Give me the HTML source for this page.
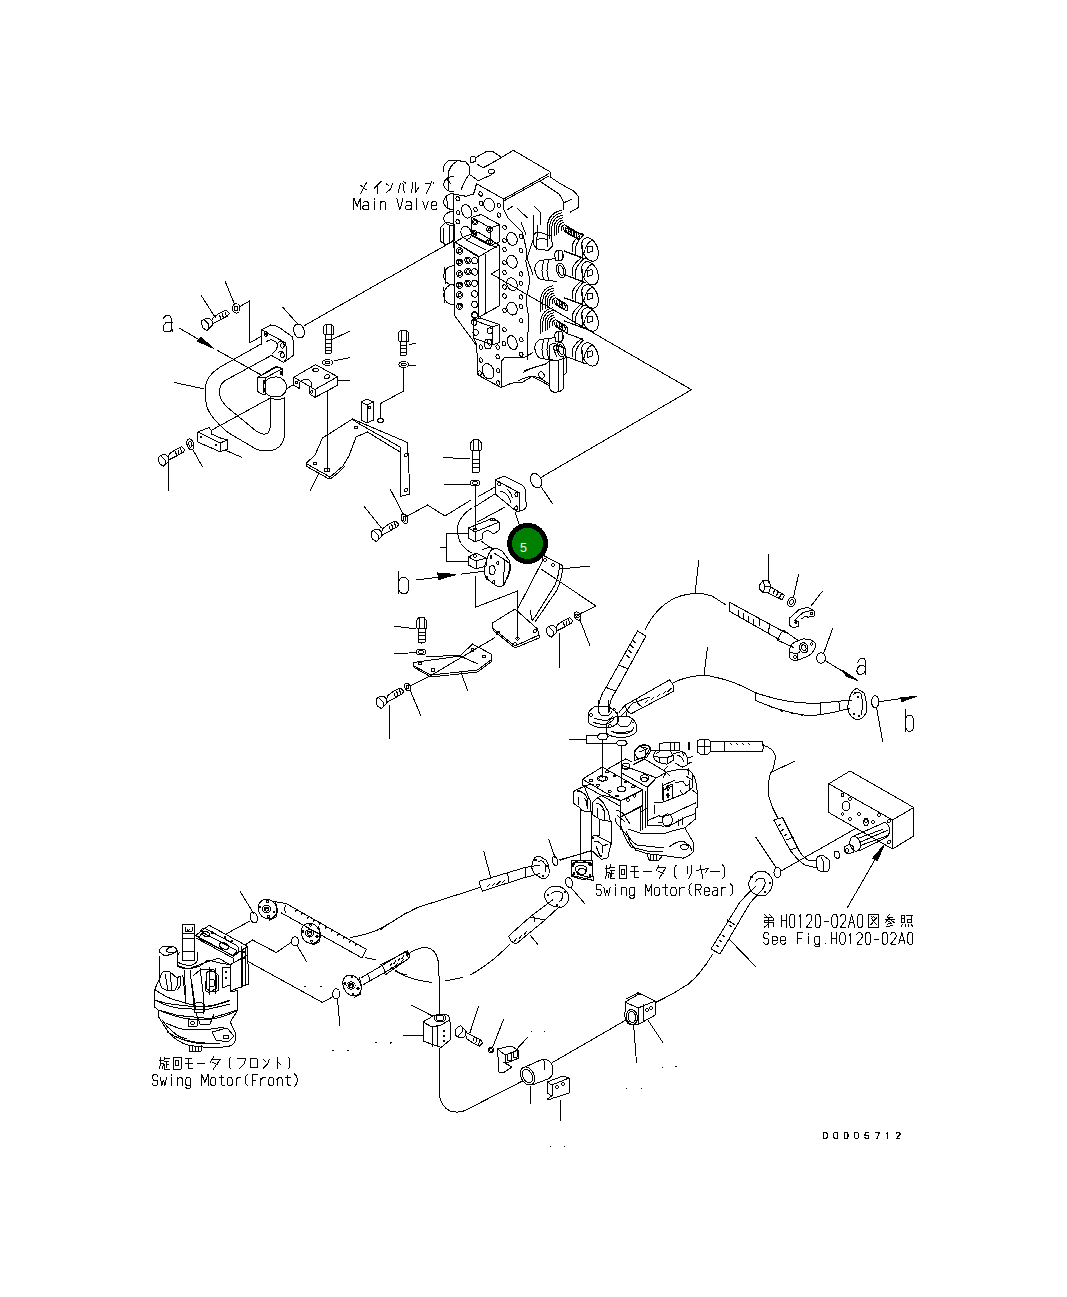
<!DOCTYPE html>
<html><head><meta charset="utf-8">
<style>
html,body{margin:0;padding:0;background:#fff;width:1067px;height:1297px;overflow:hidden}
svg{position:absolute;left:0;top:0}
</style></head><body>
<svg width="1067" height="1297" viewBox="0 0 1067 1297" fill="none" stroke="#000" stroke-width="1" stroke-linejoin="round" stroke-linecap="round" shape-rendering="crispEdges">
<g id="t1">
<!-- letter a -->
<path d="M163.1 318.4 L166.1 315.4 L169.5 315.4 L171.7 318.7 L172.1 331.5 M172.1 322.5 L165.7 322.9 L163.1 325.9 L163.1 330.4 L165.4 331.9 L169.5 331.9 L172.1 329.2"/>
<path d="M179.2 328.1 L198 339 M217.1 350.2 L261 374.9"/>
<path d="M213.7 348.4 L197.2 341.2 L201 337.5 Z" fill="#000"/>
<!-- bolt TL -->
<path d="M201.5 296 L215.6 318"/>



<!-- washer -->
<path d="M225 281 L234.3 303.7"/>
<ellipse cx="236.2" cy="308.4" rx="3.7" ry="4.7"/>
<ellipse cx="236.2" cy="308.4" rx="1.8" ry="2.4"/>
<path d="M240 306.5 L249.5 301 L249.5 343 L261.6 336"/>
<!-- flange top -->
<path d="M261.6 329.8 L270.7 324.9 Q276 325 280 328 L292.2 336.7 L293.5 341.6 L293.5 355.4 L283.8 362.4 L271.4 355.4"/>
<path d="M261.6 329.8 L285.9 343 L286.6 358.2 L283.8 362.4 M261.6 329.8 L261.6 344.4"/>
<path d="M266.5 341.6 Q270 339 272.7 340.2 Q277 342 277.6 345 Q277 350 272.7 353.4"/>
<ellipse cx="265.8" cy="334" rx="1.8" ry="2.2"/><ellipse cx="265.8" cy="334" rx="0.8" ry="1"/>
<ellipse cx="282.4" cy="345.5" rx="1.8" ry="2.6"/><ellipse cx="282.4" cy="355.4" rx="1.8" ry="2.6"/>
<path d="M278 343 Q281 340 284 343 M278 353 Q281 350 284 353"/>
<!-- O-ring & leader -->
<path d="M283 307.5 L298 324.4"/>
<path d="M303.89 329.22 L304.35 331.01 L304.45 332.80 L304.17 334.46 L303.55 335.89 L302.61 336.98 L301.43 337.67 L300.08 337.90 L298.66 337.67 L297.26 336.98 L295.98 335.88 L294.91 334.44 L294.11 332.78 L293.65 330.99 L293.55 329.20 L293.83 327.54 L294.45 326.11 L295.39 325.02 L296.57 324.33 L297.92 324.10 L299.34 324.33 L300.74 325.02 L302.02 326.12 L303.09 327.56 Z"/>
<path d="M303.7 326 L455 240"/>
<!-- pipe -->
<path d="M261.6 343.7 L219.4 367.5 Q206 376 205.3 388 L206.2 405 Q210 418 228.7 433 L256 449 Q266 453 276 449 Q285 444 284.5 432 L284.5 397"/>
<path d="M271.4 355.4 L225 380.6 Q219 385 219.4 393 Q220 400 226.8 406.8 L256 431 Q264 436 268 433 Q270.7 430 270.7 420 L270.7 397"/>
<path d="M174.4 382.5 L204.4 389"/>
<!-- elbow flange middle -->
<path d="M257.5 377.6 L275.5 366.5 L282.4 368.6 L282.4 376 M257.5 377.6 L265.8 377.6 L282.4 368.6 M257.5 377.6 L257.5 391.5 L262.3 394.3 L265.8 394.3 L265.8 377.6"/>
<path d="M263 379.5 L263 393 M260 376 L278 366.5"/>
<path d="M265.2 382 Q269 376.5 276.9 377 Q286.5 378 286.6 388.7 Q285 396 277 397 Q269 397 266 393"/>
<ellipse cx="281" cy="373" rx="1" ry="1.6"/><ellipse cx="265" cy="382" rx="1" ry="1.5"/><ellipse cx="265" cy="390" rx="1" ry="1.5"/>
<path d="M270.7 397.8 Q277 401 284.5 397.8"/>
<path d="M286.6 388.7 L293.5 384.6"/>
<!-- clamp right -->
<path d="M293.7 377.3 L315.6 364.6 L337.5 376.7 L315 389.5 Z"/>
<path d="M293.7 377.3 L293.7 385.3 L299.1 388.3 L299.5 382.5 Q304 378 309 380 Q312 382 311.9 386 L309 387.1 L309.5 393.8 L315 397.4 L337.5 385.3 L337.5 376.7 M315 389.5 L315 397.4"/>
<ellipse cx="315.6" cy="370" rx="2.8" ry="2"/><path d="M329.64 375.52 L329.72 376.58 L329.10 377.68 L327.95 378.51 L326.56 378.86 L325.32 378.63 L324.56 377.88 L324.48 376.82 L325.10 375.72 L326.25 374.89 L327.64 374.54 L328.88 374.77 Z"/>
<circle cx="296.7" cy="382.8" r="1.2"/><circle cx="311.9" cy="392" r="1.2"/>
<path d="M337.5 381 L350 380.5"/>
<path d="M327 391 L327 470.6"/>
<ellipse cx="327" cy="470" rx="2.6" ry="1.9"/>
<!-- lower clamp -->
<path d="M197.8 432 L209 427.5 L211.5 431 L211.5 434 L220.5 438 L227.8 440 L227.8 449 L220 451.8 L197.8 442 Z"/>
<path d="M197.8 432 L220 443 L220 451.8 M220 443 L227.8 440"/>
<circle cx="201" cy="437" r="1"/><circle cx="216" cy="445" r="1"/>
<path d="M225 450 L241.8 457.4"/>
<path d="M211.9 430 L270.7 397.8"/>
<!-- bottom bolt -->



<path d="M168.7 461 L168.7 491"/>
<path d="M193.49 443.45 L193.80 445.46 L193.63 447.31 L193.02 448.76 L192.04 449.61 L190.82 449.74 L189.54 449.13 L188.35 447.87 L187.43 446.13 L186.90 444.15 L186.83 442.18 L187.22 440.50 L188.03 439.33 L189.15 438.84 L190.42 439.08 L191.68 440.02 L192.75 441.55 Z"/>
<path d="M191.85 443.89 L192.03 445.39 L191.75 446.60 L191.08 447.20 L190.20 447.02 L189.35 446.11 L188.75 444.71 L188.57 443.21 L188.85 442.00 L189.52 441.40 L190.40 441.58 L191.25 442.49 Z"/>
<path d="M193 450 L202.5 466.8"/>
</g>

<g id="t10">
<!-- hose A -->
<path d="M532 865 Q533 856 539 856 L546 860 Q550 866 549 874 Q547 880 541 878 L535 874 Q531 870 532 865 Z"/>
<path d="M538 862 Q542 859 545 864 L546 872"/>
<circle cx="535.5" cy="860" r="0.9"/><circle cx="543" cy="876" r="1"/><circle cx="547.5" cy="866" r="1"/>
<path d="M525 867.5 L540 865 M525 877.5 L540 873.5 M525 867.5 L525 877.5"/>
<path d="M480 881 L525 867.5 M482.5 891 L525 877.5 M480 881 Q479 886 482.5 891 M507.5 872.5 L509 883"/>
<path d="M487 887 l3 -3 M492 886 l3 -3 M497 884.5 l3 -3 M502 883 l3 -3"/>
<path d="M483.75 851 L491 879"/>
<path d="M480 887.5 L417.5 907.5 Q398 917 380 930"/>
<path d="M557.41 860.35 L557.73 862.37 L557.58 864.16 L556.98 865.39 L556.03 865.87 L554.91 865.51 L553.81 864.36 L552.91 862.64 L552.37 860.63 L552.29 858.68 L552.67 857.14 L553.46 856.26 L554.52 856.21 L555.65 856.98 L556.68 858.44 Z"/>
<path d="M548.75 839 L555 857.5"/>
<path d="M559 860 L591 851"/>
<path d="M571 864 L580 860 L592.5 864 L592.5 876 L584 880 L571 876 Z M575 868 Q580 863 586 867 Q588 873 582 875 Q576 874 575 868 Z"/>
<circle cx="573" cy="866" r="0.9"/><circle cx="590" cy="865" r="0.9"/><circle cx="574" cy="874" r="0.9"/><circle cx="590" cy="875" r="0.9"/>
<path d="M580 830 L580 861 M591.25 830 L591.25 852.5"/>
<!-- hose B -->
<path d="M572.29 881.30 L572.68 883.08 L572.58 884.78 L572.00 886.17 L571.01 887.07 L569.74 887.35 L568.38 886.97 L567.10 885.99 L566.08 884.54 L565.45 882.81 L565.30 881.04 L565.65 879.47 L566.46 878.31 L567.60 877.71 L568.94 877.76 L570.28 878.45 L571.45 879.69 Z"/>
<path d="M571 887.5 L585 904"/>
<path d="M545 893 Q548 886 556 886 Q566 887 569 896 Q569 904 562 907 Q552 908 547 902 Q544 898 545 893 Z"/>
<path d="M551 894 Q556 889 562 893 Q564 899 559 902"/>
<circle cx="548" cy="895" r="0.9"/><circle cx="565" cy="892" r="0.9"/><circle cx="557" cy="905" r="0.9"/>
<path d="M552.5 900 L530 917 L508.75 936 M560 906 L545 920 L516 944 M508.75 936 Q510 942 516 944"/>
<path d="M530 917 L545 920 M532 915 Q535 918 534 922"/>
<path d="M514 942 l3 -4 M519 939 l3 -4 M524 935 l3 -4"/>
<path d="M530 935 L537.5 944"/>
<path d="M510 944 Q500 954 492.5 960 Q480 970 470 975"/>
<!-- hose C -->
<path d="M380 965 L407.5 951 L410 957.5 L385 975 M407.5 951 Q410 954 410 957.5"/>
<path d="M389 970 l3 -3 M395 966 l3 -3 M401 962 l3 -3"/>
<path d="M410 952.5 Q418 948 425 947.5 Q437 948 438.75 965 L440 1015"/>
<path d="M395 971 Q410 980 432 982.5 M445 981 L462.5 977.5"/>
<!-- clamp 1 -->
<path d="M423 1022 L433 1016 L446 1014 Q450 1016 450 1022 L450 1040 L441 1047.5 L423 1041 Z"/>
<path d="M423 1022 L432 1027 L432 1047 M432 1027 L441 1025 L450 1020 M437 1026 L437 1046"/>
<ellipse cx="440" cy="1018" rx="6" ry="4"/><ellipse cx="440" cy="1018" rx="4" ry="2.6"/>
<circle cx="444" cy="1031" r="1"/><circle cx="444" cy="1036" r="1"/><circle cx="444" cy="1041" r="1"/>
<path d="M411 1005 L432.5 1016 M402.5 1035 L423.75 1035"/>
<path d="M439 1047.5 L439 1092 Q440 1106 450 1111 Q460 1114 468 1109 L522.5 1081"/>
<!-- bolt -->


<path d="M478.75 1006 L470 1032.5"/>
<path d="M493.60 1048.50 L493.88 1049.78 L493.38 1051.12 L492.25 1052.17 L490.78 1052.62 L489.38 1052.38 L488.40 1051.50 L488.12 1050.22 L488.62 1048.88 L489.75 1047.83 L491.22 1047.38 L492.62 1047.62 Z"/><ellipse cx="491" cy="1050" rx="1.4" ry="1.2"/>
<path d="M503.75 1019 L492.5 1047.5"/>
<!-- half clamp -->
<path d="M497.5 1049 L511 1046 L518 1050 L519 1058 L509 1062 L503 1062 L512 1067 L503 1073 L499 1072 Z"/>
<path d="M497.5 1049 L505 1055 L519 1050 M505 1055 L505 1063"/>
<path d="M507 1054 L507 1060 L511 1060 L511 1053 M513 1052 L513 1058 L517 1057 L517 1051"/>
<path d="M527.5 1037.5 L515 1051"/>
<path d="M531 1031 L532 1031 M544 1031 L545 1031"/>
<!-- sleeve -->
<path d="M533.39 1073.25 L534.06 1074.99 L534.48 1076.76 L534.63 1078.50 L534.50 1080.15 L534.11 1081.63 L533.46 1082.90 L532.59 1083.91 L531.51 1084.61 L530.29 1084.98 L528.95 1085.01 L527.57 1084.69 L526.17 1084.03 L524.83 1083.07 L523.59 1081.83 L522.51 1080.37 L521.61 1078.75 L520.94 1077.01 L520.52 1075.24 L520.37 1073.50 L520.50 1071.85 L520.89 1070.37 L521.54 1069.10 L522.41 1068.09 L523.49 1067.39 L524.71 1067.02 L526.05 1066.99 L527.43 1067.31 L528.83 1067.97 L530.17 1068.93 L531.41 1070.17 L532.49 1071.63 Z"/>
<path d="M531.58 1074.10 L532.23 1075.88 L532.52 1077.67 L532.45 1079.34 L532.00 1080.76 L531.23 1081.82 L530.17 1082.46 L528.92 1082.61 L527.56 1082.28 L526.20 1081.48 L524.94 1080.27 L523.86 1078.75 L523.06 1077.02 L522.58 1075.22 L522.47 1073.47 L522.73 1071.91 L523.35 1070.66 L524.27 1069.80 L525.43 1069.40 L526.75 1069.49 L528.12 1070.07 L529.45 1071.08 L530.63 1072.46 Z"/>
<path d="M524 1067.5 L543 1059 Q550 1059 552.5 1066 L552.5 1074 Q551 1078 548 1079 L532 1085"/>
<path d="M543 1059 Q546 1064 544.5 1070"/>
<path d="M552.5 1062.5 L626 1020"/>

<path d="M530 1086 L530 1104 M560 1100 L560 1121"/>
<!-- half clamp 2 -->
<path d="M547 1082 L563 1076 L569 1078 L569 1093 L557 1097 L553 1098 L549 1100 L547 1099 L552 1096 L547 1093 Z M547 1082 L552 1085 L569 1078 M552 1085 L552 1096"/>
<circle cx="557" cy="1087" r="1.3"/><circle cx="563" cy="1084" r="1.3"/>
<!-- clamp 2 right -->
<path d="M625 1002 L639 994 L643 995 L655.3 1001 L655.3 1015 L638 1024.6 L630 1025 Q624 1021 625 1012 Z"/>
<path d="M626 999 L638 992.8 L643 995 M625 1002 L638 1008 L655.3 1001 M638 1008 L638 1024.6 M643 1004 L643 1022"/>
<path d="M637.32 1016.04 L637.47 1017.84 L637.30 1019.59 L636.82 1021.18 L636.05 1022.54 L635.04 1023.57 L633.85 1024.22 L632.54 1024.45 L631.20 1024.24 L629.89 1023.62 L628.71 1022.61 L627.71 1021.28 L626.95 1019.69 L626.48 1017.96 L626.33 1016.16 L626.50 1014.41 L626.98 1012.82 L627.75 1011.46 L628.76 1010.43 L629.95 1009.78 L631.26 1009.55 L632.60 1009.76 L633.91 1010.38 L635.09 1011.39 L636.09 1012.72 L636.85 1014.31 Z"/><path d="M635.64 1016.34 L635.74 1018.23 L635.38 1019.98 L634.60 1021.36 L633.49 1022.22 L632.19 1022.45 L630.86 1022.02 L629.65 1020.99 L628.71 1019.47 L628.16 1017.66 L628.06 1015.77 L628.42 1014.02 L629.20 1012.64 L630.31 1011.78 L631.61 1011.55 L632.94 1011.98 L634.15 1013.01 L635.09 1014.53 Z"/>
<ellipse cx="647" cy="1010" rx="1.5" ry="1.2"/><ellipse cx="651" cy="1008" rx="1.5" ry="1.2"/>
<path d="M647.8 1020 L662.8 1042.5"/>
<path d="M633.7 1025.6 L636.5 1063"/>
<path d="M390 1043 L391 1043 M626 1088 L627 1088 M641 1088 L642 1088 M550 1146 L551 1146 M564 1146 L565 1146 M662 1067 L663 1067 M675.5 1066.8 L676.5 1066.8"/>
</g>

<g id="t11">
<path d="M201.80 320.90 L205.60 318.40 L209.40 318.40 L212.00 320.90 L212.40 325.20 L209.00 328.50 L206.90 330.60 L202.70 327.70 L201.80 324.30 Z M204.40 319.70 L208.60 324.30 L209.00 328.50 M212.50 320.00 L213.20 317.60 L219.10 313.30 L225.90 310.00 L229.30 313.30 M212.40 325.20 L213.20 323.50 L220.00 320.10 L227.60 315.90 L229.30 313.30 M219.60 315.00 L221.00 320.00 M222.20 313.30 L223.50 318.50 M225.00 312.00 L226.50 316.50"/>
<path d="M158.56 457.08 L162.17 454.70 L165.78 454.70 L168.25 457.08 L168.63 461.17 L165.40 464.30 L163.41 466.30 L159.41 463.54 L158.56 460.31 Z M161.03 455.94 L165.02 460.31 L165.40 464.30 M168.72 456.23 L169.39 453.94 L175.00 449.86 L181.45 446.73 L184.69 449.86 M168.63 461.17 L169.39 459.55 L175.85 456.32 L183.07 452.33 L184.69 449.86 M175.47 451.48 L176.80 456.23 M177.94 449.86 L179.18 454.80 M180.60 448.62 L182.03 452.90"/>
<path d="M371.30 531.90 L375.10 529.40 L378.90 529.40 L381.50 531.90 L381.90 536.20 L378.50 539.50 L376.40 541.60 L372.20 538.70 L371.30 535.30 Z M373.90 530.70 L378.10 535.30 L378.50 539.50 M382.00 531.00 L382.70 528.60 L388.60 524.30 L395.40 521.00 L398.80 524.30 M381.90 536.20 L382.70 534.50 L389.50 531.10 L397.10 526.90 L398.80 524.30 M389.10 526.00 L390.50 531.00 M391.70 524.30 L393.00 529.50 M394.50 523.00 L396.00 527.50"/>
<path d="M546.56 628.08 L550.17 625.71 L553.78 625.71 L556.25 628.08 L556.63 632.16 L553.40 635.30 L551.40 637.29 L547.41 634.54 L546.56 631.31 Z M549.03 626.94 L553.02 631.31 L553.40 635.30 M556.73 627.23 L557.39 624.95 L563.00 620.86 L569.46 617.73 L572.68 620.86 M556.63 632.16 L557.39 630.55 L563.85 627.32 L571.07 623.33 L572.68 620.86 M563.47 622.48 L564.80 627.23 M565.94 620.86 L567.17 625.80 M568.60 619.62 L570.02 623.90"/>
<path d="M376.30 698.90 L380.10 696.40 L383.90 696.40 L386.50 698.90 L386.90 703.20 L383.50 706.50 L381.40 708.60 L377.20 705.70 L376.30 702.30 Z M378.90 697.70 L383.10 702.30 L383.50 706.50 M387.00 698.00 L387.70 695.60 L393.60 691.30 L400.40 688.00 L403.80 691.30 M386.90 703.20 L387.70 701.50 L394.50 698.10 L402.10 693.90 L403.80 691.30 M394.10 693.00 L395.50 698.00 M396.70 691.30 L398.00 696.50 M399.50 690.00 L401.00 694.50"/>
<path d="M455.30 1035.30 L459.10 1037.80 L462.90 1037.80 L465.50 1035.30 L465.90 1031.00 L462.50 1027.70 L460.40 1025.60 L456.20 1028.50 L455.30 1031.90 Z M457.90 1036.50 L462.10 1031.90 L462.50 1027.70 M466.00 1036.20 L466.70 1038.60 L472.60 1042.90 L479.40 1046.20 L482.80 1042.90 M465.90 1031.00 L466.70 1032.70 L473.50 1036.10 L481.10 1040.30 L482.80 1042.90 M473.10 1041.20 L474.50 1036.20 M475.70 1042.90 L477.00 1037.70 M478.50 1044.20 L480.00 1039.70"/>
</g>
<g id="t2">
<path d="M513.4 150.3 L549.9 171.7 L550.8 177.4 L559.2 183 L574.2 191.4 L578 196.1 L578.5 207.4 L570.5 212"/>
<path d="M513.4 150.3 L501.7 157.4 L492.4 151.3 L486.7 151.3 L475.5 157.8"/>
<path d="M501.7 157.4 L488.6 164.9 L483 167.7 L477.4 164.4"/>
<path d="M470 158 Q472 155 475 157 L476 161 L471 163 Z"/>
<path d="M443 172 Q443 163 450 160 L455 160 L466 162 L469 166 L469 175 L466.5 178 L463.5 184 L461 190"/>
<path d="M457 161 Q449 166 448 175 Q448 182 451 184"/>
<path d="M470.8 175.2 L478.3 180.8 L490.5 175.2 L494.2 172.4"/>
<path d="M494.70 171.40 L494.26 172.55 L493.05 173.39 L491.40 173.70 L489.75 173.39 L488.54 172.55 L488.10 171.40 L488.54 170.25 L489.75 169.41 L491.40 169.10 L493.05 169.41 L494.26 170.25 Z"/>
<path d="M476.4 183.6 L503.6 199.1 L538 179.9 M503.6 201 L538 182 M538 179.9 L549 173.6 M538 182 L549 176"/>
<path d="M453.5 194 L466.1 196.3 L473.6 194 L476.4 183.6 L475.5 190"/>
<path d="M539.6 181.1 L559.2 194.2 L563.5 201.7 L563.5 209.2 M564 202.7 L571.4 199.4"/>
<path d="M503.6 199.1 L503.6 208.9 L508.3 218.3 L522.3 232.3 L526.1 248 L526 262 L530 280 L526 300 L529 320 L527 345 L528 360"/>
<path d="M507 210 L513 206 M517 208 L527 218 M534 206 L540 212 L540 225 M518 209.2 L527.4 217.7"/>
<path d="M533 215 L533 240 L527 258 L533 275 M538 225 L536 250 M521 222 L526 235"/>
<path d="M453.5 194 L454 248 L454.9 316 L476.9 346 L477.4 374.7 L501 387.6"/>
<path d="M474.1 338.1 L476.9 346"/>
<path d="M454 176 Q445 177 443.5 184.0 Q444 191 454 192"/>
<path d="M454 193 Q445 194 443.5 201.5 Q444 209 454 210"/>
<path d="M454 211 Q445 212 443.5 218.5 Q444 225 454 226"/>
<path d="M454 265.5 Q445 266.5 443.5 275.35 Q444 284.2 454 285.2"/>
<path d="M454 284 Q445 285 443.5 294.5 Q444 304 454 305"/>
<path d="M447 177 Q449 182 448 190 M446 196 Q448 203 447 208 M444 267 Q447 275 445 284 M443 287 Q446 295 444 303"/>
<path d="M440 228 L446 222 L454 224 L454 240 L446 245 L440 241 Z M443 228 L443 244 M449 225 L449 243"/>
<path d="M493.99 202.92 L494.41 204.66 L494.45 206.40 L494.08 208.02 L493.35 209.39 L492.30 210.41 L491.02 211.01 L489.59 211.14 L488.13 210.79 L486.73 209.99 L485.52 208.80 L484.57 207.31 L483.95 205.62 L483.72 203.86 L483.88 202.17 L484.44 200.66 L485.34 199.45 L486.51 198.63 L487.88 198.27 L489.34 198.38 L490.79 198.95 L492.10 199.96 L493.20 201.31 Z"/>
<path d="M470.92 209.73 L471.41 211.56 L471.54 213.37 L471.30 215.03 L470.71 216.42 L469.82 217.42 L468.69 217.97 L467.41 218.02 L466.06 217.58 L464.76 216.67 L463.59 215.36 L462.64 213.75 L461.99 211.96 L461.68 210.12 L461.74 208.37 L462.15 206.83 L462.90 205.63 L463.92 204.84 L465.14 204.54 L466.46 204.74 L467.80 205.42 L469.05 206.54 L470.12 208.01 Z"/>
<path d="M470.80 231.09 L471.23 232.83 L471.29 234.56 L470.96 236.17 L470.27 237.52 L469.27 238.52 L468.03 239.10 L466.65 239.22 L465.23 238.85 L463.88 238.04 L462.69 236.84 L461.75 235.34 L461.14 233.65 L460.89 231.90 L461.03 230.21 L461.55 228.72 L462.40 227.53 L463.53 226.73 L464.85 226.38 L466.26 226.51 L467.66 227.10 L468.94 228.12 L470.02 229.48 Z"/>
<path d="M516.70 237.19 L517.13 238.93 L517.19 240.66 L516.86 242.27 L516.17 243.62 L515.17 244.62 L513.93 245.20 L512.55 245.32 L511.13 244.95 L509.78 244.14 L508.59 242.94 L507.65 241.44 L507.04 239.75 L506.79 238.00 L506.93 236.31 L507.45 234.82 L508.30 233.63 L509.43 232.83 L510.75 232.48 L512.16 232.61 L513.56 233.20 L514.84 234.22 L515.92 235.58 Z"/>
<path d="M516.70 259.99 L517.13 261.73 L517.19 263.46 L516.86 265.07 L516.17 266.42 L515.17 267.42 L513.93 268.00 L512.55 268.12 L511.13 267.75 L509.78 266.94 L508.59 265.74 L507.65 264.24 L507.04 262.55 L506.79 260.80 L506.93 259.11 L507.45 257.62 L508.30 256.43 L509.43 255.63 L510.75 255.28 L512.16 255.41 L513.56 256.00 L514.84 257.02 L515.92 258.38 Z"/>
<path d="M516.70 282.49 L517.13 284.23 L517.19 285.96 L516.86 287.57 L516.17 288.92 L515.17 289.92 L513.93 290.50 L512.55 290.62 L511.13 290.25 L509.78 289.44 L508.59 288.24 L507.65 286.74 L507.04 285.05 L506.79 283.30 L506.93 281.61 L507.45 280.12 L508.30 278.93 L509.43 278.13 L510.75 277.78 L512.16 277.91 L513.56 278.50 L514.84 279.52 L515.92 280.88 Z"/>
<path d="M516.70 306.89 L517.13 308.63 L517.19 310.36 L516.86 311.97 L516.17 313.32 L515.17 314.32 L513.93 314.90 L512.55 315.02 L511.13 314.65 L509.78 313.84 L508.59 312.64 L507.65 311.14 L507.04 309.45 L506.79 307.70 L506.93 306.01 L507.45 304.52 L508.30 303.33 L509.43 302.53 L510.75 302.18 L512.16 302.31 L513.56 302.90 L514.84 303.92 L515.92 305.28 Z"/>
<path d="M493.36 369.38 L493.84 371.15 L494.02 372.92 L493.87 374.60 L493.41 376.11 L492.67 377.36 L491.67 378.28 L490.49 378.82 L489.18 378.96 L487.81 378.69 L486.45 378.01 L485.19 376.98 L484.08 375.64 L483.19 374.06 L482.56 372.34 L482.23 370.56 L482.22 368.82 L482.52 367.21 L483.13 365.83 L484.00 364.74 L485.10 364.00 L486.35 363.66 L487.70 363.72 L489.08 364.20 L490.39 365.06 L491.59 366.26 L492.60 367.72 Z"/>
<path d="M516.53 341.06 L517.05 342.97 L517.21 344.85 L517.01 346.56 L516.46 347.98 L515.60 349.00 L514.50 349.55 L513.24 349.58 L511.90 349.09 L510.60 348.12 L509.42 346.74 L508.45 345.06 L507.77 343.19 L507.43 341.28 L507.44 339.46 L507.82 337.88 L508.53 336.65 L509.52 335.86 L510.72 335.57 L512.03 335.80 L513.36 336.54 L514.62 337.72 L515.70 339.27 Z"/>
<path d="M482.20 193.32 L482.38 194.48 L482.08 195.48 L481.39 196.06 L480.48 196.06 L479.61 195.48 L479.00 194.48 L478.82 193.32 L479.12 192.32 L479.81 191.74 L480.72 191.74 L481.59 192.32 Z"/>
<path d="M482.70 202.72 L482.88 203.88 L482.58 204.88 L481.89 205.46 L480.98 205.46 L480.11 204.88 L479.50 203.88 L479.32 202.72 L479.62 201.72 L480.31 201.14 L481.22 201.14 L482.09 201.72 Z"/>
<path d="M477.10 208.82 L477.28 209.98 L476.98 210.98 L476.29 211.56 L475.38 211.56 L474.51 210.98 L473.90 209.98 L473.72 208.82 L474.02 207.82 L474.71 207.24 L475.62 207.24 L476.49 207.82 Z"/>
<path d="M500.50 204.62 L500.68 205.78 L500.38 206.78 L499.69 207.36 L498.78 207.36 L497.91 206.78 L497.30 205.78 L497.12 204.62 L497.42 203.62 L498.11 203.04 L499.02 203.04 L499.89 203.62 Z"/>
<path d="M500.50 214.42 L500.68 215.58 L500.38 216.58 L499.69 217.16 L498.78 217.16 L497.91 216.58 L497.30 215.58 L497.12 214.42 L497.42 213.42 L498.11 212.84 L499.02 212.84 L499.89 213.42 Z"/>
<path d="M459.30 198.02 L459.48 199.18 L459.18 200.18 L458.49 200.76 L457.58 200.76 L456.71 200.18 L456.10 199.18 L455.92 198.02 L456.22 197.02 L456.91 196.44 L457.82 196.44 L458.69 197.02 Z"/>
<path d="M459.80 212.12 L459.98 213.28 L459.68 214.28 L458.99 214.86 L458.08 214.86 L457.21 214.28 L456.60 213.28 L456.42 212.12 L456.72 211.12 L457.41 210.54 L458.32 210.54 L459.19 211.12 Z"/>
<path d="M459.30 221.02 L459.48 222.18 L459.18 223.18 L458.49 223.76 L457.58 223.76 L456.71 223.18 L456.10 222.18 L455.92 221.02 L456.22 220.02 L456.91 219.44 L457.82 219.44 L458.69 220.02 Z"/>
<path d="M506.10 226.62 L506.28 227.78 L505.98 228.78 L505.29 229.36 L504.38 229.36 L503.51 228.78 L502.90 227.78 L502.72 226.62 L503.02 225.62 L503.71 225.04 L504.62 225.04 L505.49 225.62 Z"/>
<path d="M522.60 236.02 L522.78 237.18 L522.48 238.18 L521.79 238.76 L520.88 238.76 L520.01 238.18 L519.40 237.18 L519.22 236.02 L519.52 235.02 L520.21 234.44 L521.12 234.44 L521.99 235.02 Z"/>
<path d="M506.10 240.12 L506.28 241.28 L505.98 242.28 L505.29 242.86 L504.38 242.86 L503.51 242.28 L502.90 241.28 L502.72 240.12 L503.02 239.12 L503.71 238.54 L504.62 238.54 L505.49 239.12 Z"/>
<path d="M506.10 249.02 L506.28 250.18 L505.98 251.18 L505.29 251.76 L504.38 251.76 L503.51 251.18 L502.90 250.18 L502.72 249.02 L503.02 248.02 L503.71 247.44 L504.62 247.44 L505.49 248.02 Z"/>
<path d="M506.10 262.12 L506.28 263.28 L505.98 264.28 L505.29 264.86 L504.38 264.86 L503.51 264.28 L502.90 263.28 L502.72 262.12 L503.02 261.12 L503.71 260.54 L504.62 260.54 L505.49 261.12 Z"/>
<path d="M506.10 271.92 L506.28 273.08 L505.98 274.08 L505.29 274.66 L504.38 274.66 L503.51 274.08 L502.90 273.08 L502.72 271.92 L503.02 270.92 L503.71 270.34 L504.62 270.34 L505.49 270.92 Z"/>
<path d="M506.10 286.42 L506.28 287.58 L505.98 288.58 L505.29 289.16 L504.38 289.16 L503.51 288.58 L502.90 287.58 L502.72 286.42 L503.02 285.42 L503.71 284.84 L504.62 284.84 L505.49 285.42 Z"/>
<path d="M506.10 295.42 L506.28 296.58 L505.98 297.58 L505.29 298.16 L504.38 298.16 L503.51 297.58 L502.90 296.58 L502.72 295.42 L503.02 294.42 L503.71 293.84 L504.62 293.84 L505.49 294.42 Z"/>
<path d="M506.10 309.92 L506.28 311.08 L505.98 312.08 L505.29 312.66 L504.38 312.66 L503.51 312.08 L502.90 311.08 L502.72 309.92 L503.02 308.92 L503.71 308.34 L504.62 308.34 L505.49 308.92 Z"/>
<path d="M522.60 249.92 L522.78 251.08 L522.48 252.08 L521.79 252.66 L520.88 252.66 L520.01 252.08 L519.40 251.08 L519.22 249.92 L519.52 248.92 L520.21 248.34 L521.12 248.34 L521.99 248.92 Z"/>
<path d="M522.60 273.32 L522.78 274.48 L522.48 275.48 L521.79 276.06 L520.88 276.06 L520.01 275.48 L519.40 274.48 L519.22 273.32 L519.52 272.32 L520.21 271.74 L521.12 271.74 L521.99 272.32 Z"/>
<path d="M522.60 282.72 L522.78 283.88 L522.48 284.88 L521.79 285.46 L520.88 285.46 L520.01 284.88 L519.40 283.88 L519.22 282.72 L519.52 281.72 L520.21 281.14 L521.12 281.14 L521.99 281.72 Z"/>
<path d="M522.60 296.32 L522.78 297.48 L522.48 298.48 L521.79 299.06 L520.88 299.06 L520.01 298.48 L519.40 297.48 L519.22 296.32 L519.52 295.32 L520.21 294.74 L521.12 294.74 L521.99 295.32 Z"/>
<path d="M522.60 306.12 L522.78 307.28 L522.48 308.28 L521.79 308.86 L520.88 308.86 L520.01 308.28 L519.40 307.28 L519.22 306.12 L519.52 305.12 L520.21 304.54 L521.12 304.54 L521.99 305.12 Z"/>
<path d="M522.60 320.22 L522.78 321.38 L522.48 322.38 L521.79 322.96 L520.88 322.96 L520.01 322.38 L519.40 321.38 L519.22 320.22 L519.52 319.22 L520.21 318.64 L521.12 318.64 L521.99 319.22 Z"/>
<path d="M522.90 339.22 L523.08 340.38 L522.78 341.38 L522.09 341.96 L521.18 341.96 L520.31 341.38 L519.70 340.38 L519.52 339.22 L519.82 338.22 L520.51 337.64 L521.42 337.64 L522.29 338.22 Z"/>
<path d="M522.90 353.82 L523.08 354.98 L522.78 355.98 L522.09 356.56 L521.18 356.56 L520.31 355.98 L519.70 354.98 L519.52 353.82 L519.82 352.82 L520.51 352.24 L521.42 352.24 L522.29 352.82 Z"/>
<path d="M482.40 346.52 L482.58 347.68 L482.28 348.68 L481.59 349.26 L480.68 349.26 L479.81 348.68 L479.20 347.68 L479.02 346.52 L479.32 345.52 L480.01 344.94 L480.92 344.94 L481.79 345.52 Z"/>
<path d="M482.40 359.42 L482.58 360.58 L482.28 361.58 L481.59 362.16 L480.68 362.16 L479.81 361.58 L479.20 360.58 L479.02 359.42 L479.32 358.42 L480.01 357.84 L480.92 357.84 L481.79 358.42 Z"/>
<path d="M481.30 372.42 L481.48 373.58 L481.18 374.58 L480.49 375.16 L479.58 375.16 L478.71 374.58 L478.10 373.58 L477.92 372.42 L478.22 371.42 L478.91 370.84 L479.82 370.84 L480.69 371.42 Z"/>
<path d="M499.30 346.52 L499.48 347.68 L499.18 348.68 L498.49 349.26 L497.58 349.26 L496.71 348.68 L496.10 347.68 L495.92 346.52 L496.22 345.52 L496.91 344.94 L497.82 344.94 L498.69 345.52 Z"/>
<path d="M499.30 356.12 L499.48 357.28 L499.18 358.28 L498.49 358.86 L497.58 358.86 L496.71 358.28 L496.10 357.28 L495.92 356.12 L496.22 355.12 L496.91 354.54 L497.82 354.54 L498.69 355.12 Z"/>
<path d="M499.80 370.12 L499.98 371.28 L499.68 372.28 L498.99 372.86 L498.08 372.86 L497.21 372.28 L496.60 371.28 L496.42 370.12 L496.72 369.12 L497.41 368.54 L498.32 368.54 L499.19 369.12 Z"/>
<path d="M499.80 382.52 L499.98 383.68 L499.68 384.68 L498.99 385.26 L498.08 385.26 L497.21 384.68 L496.60 383.68 L496.42 382.52 L496.72 381.52 L497.41 380.94 L498.32 380.94 L499.19 381.52 Z"/>
<path d="M506.00 329.12 L506.18 330.28 L505.88 331.28 L505.19 331.86 L504.28 331.86 L503.41 331.28 L502.80 330.28 L502.62 329.12 L502.92 328.12 L503.61 327.54 L504.52 327.54 L505.39 328.12 Z"/>
<path d="M505.50 343.12 L505.68 344.28 L505.38 345.28 L504.69 345.86 L503.78 345.86 L502.91 345.28 L502.30 344.28 L502.12 343.12 L502.42 342.12 L503.11 341.54 L504.02 341.54 L504.89 342.12 Z"/>
<path d="M454.9 242 L466 236 L478 232 L499 244.9 L478.3 257 Z"/>
<path d="M459.6 244.9 L478.3 256.1 M466 240 L486 250 M470 234 L497 248"/>
<path d="M478.3 257 L478.3 317.5 M499 244.9 L499.4 305.8 L478.3 317.5 M485.3 254 L485.3 314 M454.9 242 L454.9 316"/>
<path d="M462.42 249.97 L462.61 251.66 L461.99 253.17 L460.73 254.10 L459.17 254.20 L457.72 253.44 L456.78 252.03 L456.59 250.34 L457.21 248.83 L458.47 247.90 L460.03 247.80 L461.48 248.56 Z"/>
<path d="M461.20 251.00 L460.99 251.90 L460.40 252.56 L459.60 252.80 L458.80 252.56 L458.21 251.90 L458.00 251.00 L458.21 250.10 L458.80 249.44 L459.60 249.20 L460.40 249.44 L460.99 250.10 Z"/>
<path d="M462.42 261.17 L462.61 262.86 L461.99 264.37 L460.73 265.30 L459.17 265.40 L457.72 264.64 L456.78 263.23 L456.59 261.54 L457.21 260.03 L458.47 259.10 L460.03 259.00 L461.48 259.76 Z"/>
<path d="M461.20 262.20 L460.99 263.10 L460.40 263.76 L459.60 264.00 L458.80 263.76 L458.21 263.10 L458.00 262.20 L458.21 261.30 L458.80 260.64 L459.60 260.40 L460.40 260.64 L460.99 261.30 Z"/>
<path d="M462.42 272.87 L462.61 274.56 L461.99 276.07 L460.73 277.00 L459.17 277.10 L457.72 276.34 L456.78 274.93 L456.59 273.24 L457.21 271.73 L458.47 270.80 L460.03 270.70 L461.48 271.46 Z"/>
<path d="M461.20 273.90 L460.99 274.80 L460.40 275.46 L459.60 275.70 L458.80 275.46 L458.21 274.80 L458.00 273.90 L458.21 273.00 L458.80 272.34 L459.60 272.10 L460.40 272.34 L460.99 273.00 Z"/>
<path d="M462.42 284.17 L462.61 285.86 L461.99 287.37 L460.73 288.30 L459.17 288.40 L457.72 287.64 L456.78 286.23 L456.59 284.54 L457.21 283.03 L458.47 282.10 L460.03 282.00 L461.48 282.76 Z"/>
<path d="M461.20 285.20 L460.99 286.10 L460.40 286.76 L459.60 287.00 L458.80 286.76 L458.21 286.10 L458.00 285.20 L458.21 284.30 L458.80 283.64 L459.60 283.40 L460.40 283.64 L460.99 284.30 Z"/>
<path d="M462.42 293.97 L462.61 295.66 L461.99 297.17 L460.73 298.10 L459.17 298.20 L457.72 297.44 L456.78 296.03 L456.59 294.34 L457.21 292.83 L458.47 291.90 L460.03 291.80 L461.48 292.56 Z"/>
<path d="M461.20 295.00 L460.99 295.90 L460.40 296.56 L459.60 296.80 L458.80 296.56 L458.21 295.90 L458.00 295.00 L458.21 294.10 L458.80 293.44 L459.60 293.20 L460.40 293.44 L460.99 294.10 Z"/>
<path d="M462.42 305.27 L462.61 306.96 L461.99 308.47 L460.73 309.40 L459.17 309.50 L457.72 308.74 L456.78 307.33 L456.59 305.64 L457.21 304.13 L458.47 303.20 L460.03 303.10 L461.48 303.86 Z"/>
<path d="M461.20 306.30 L460.99 307.20 L460.40 307.86 L459.60 308.10 L458.80 307.86 L458.21 307.20 L458.00 306.30 L458.21 305.40 L458.80 304.74 L459.60 304.50 L460.40 304.74 L460.99 305.40 Z"/>
<path d="M471.01 259.21 L471.19 260.77 L470.64 262.23 L469.48 263.25 L467.99 263.59 L466.50 263.18 L465.35 262.10 L464.81 260.62 L465.00 259.06 L465.88 257.79 L467.24 257.09 L468.78 257.13 L470.14 257.89 Z"/>
<path d="M469.69 259.68 L469.79 260.66 L469.41 261.54 L468.65 262.09 L467.72 262.15 L466.86 261.73 L466.31 260.92 L466.21 259.94 L466.59 259.06 L467.35 258.51 L468.28 258.45 L469.14 258.87 Z"/>
<path d="M471.01 270.51 L471.19 272.07 L470.64 273.53 L469.48 274.55 L467.99 274.89 L466.50 274.48 L465.35 273.40 L464.81 271.92 L465.00 270.36 L465.88 269.09 L467.24 268.39 L468.78 268.43 L470.14 269.19 Z"/>
<path d="M469.69 270.98 L469.79 271.96 L469.41 272.84 L468.65 273.39 L467.72 273.45 L466.86 273.03 L466.31 272.22 L466.21 271.24 L466.59 270.36 L467.35 269.81 L468.28 269.75 L469.14 270.17 Z"/>
<path d="M471.01 282.21 L471.19 283.77 L470.64 285.23 L469.48 286.25 L467.99 286.59 L466.50 286.18 L465.35 285.10 L464.81 283.62 L465.00 282.06 L465.88 280.79 L467.24 280.09 L468.78 280.13 L470.14 280.89 Z"/>
<path d="M469.69 282.68 L469.79 283.66 L469.41 284.54 L468.65 285.09 L467.72 285.15 L466.86 284.73 L466.31 283.92 L466.21 282.94 L466.59 282.06 L467.35 281.51 L468.28 281.45 L469.14 281.87 Z"/>
<path d="M477.42 259.77 L477.61 261.46 L476.99 262.97 L475.73 263.90 L474.17 264.00 L472.72 263.24 L471.78 261.83 L471.59 260.14 L472.21 258.63 L473.47 257.70 L475.03 257.60 L476.48 258.36 Z"/>
<path d="M477.42 270.97 L477.61 272.66 L476.99 274.17 L475.73 275.10 L474.17 275.20 L472.72 274.44 L471.78 273.03 L471.59 271.34 L472.21 269.83 L473.47 268.90 L475.03 268.80 L476.48 269.56 Z"/>
<path d="M477.42 282.27 L477.61 283.96 L476.99 285.47 L475.73 286.40 L474.17 286.50 L472.72 285.74 L471.78 284.33 L471.59 282.64 L472.21 281.13 L473.47 280.20 L475.03 280.10 L476.48 280.86 Z"/>
<path d="M477.42 292.97 L477.61 294.66 L476.99 296.17 L475.73 297.10 L474.17 297.20 L472.72 296.44 L471.78 295.03 L471.59 293.34 L472.21 291.83 L473.47 290.90 L475.03 290.80 L476.48 291.56 Z"/>
<path d="M477.42 303.37 L477.61 305.06 L476.99 306.57 L475.73 307.50 L474.17 307.60 L472.72 306.84 L471.78 305.43 L471.59 303.74 L472.21 302.23 L473.47 301.30 L475.03 301.20 L476.48 301.96 Z"/>
<path d="M477.42 313.67 L477.61 315.36 L476.99 316.87 L475.73 317.80 L474.17 317.90 L472.72 317.14 L471.78 315.73 L471.59 314.04 L472.21 312.53 L473.47 311.60 L475.03 311.50 L476.48 312.26 Z"/>
<path d="M499.4 269.2 L491.4 273.9 L499.4 278.6 L691.5 389.7 L540 478"/>
<path d="M471.7 217.4 L481.1 214.5 L499.9 224.8 L499.9 241.7 L490.5 245.5 L471.7 236 Z M490.5 228 L499.9 224.8 M490.5 228 L490.5 245.5 M471.7 217.4 L490.5 228"/>
<path d="M477.63 221.04 L477.79 222.58 L477.20 223.96 L476.03 224.82 L474.57 224.92 L473.23 224.24 L472.37 222.96 L472.21 221.42 L472.80 220.04 L473.97 219.18 L475.43 219.08 L476.77 219.76 Z"/>
<path d="M476.40 222.00 L476.21 222.75 L475.70 223.30 L475.00 223.50 L474.30 223.30 L473.79 222.75 L473.60 222.00 L473.79 221.25 L474.30 220.70 L475.00 220.50 L475.70 220.70 L476.21 221.25 Z"/>
<path d="M476.73 232.34 L476.89 233.88 L476.30 235.26 L475.13 236.12 L473.67 236.22 L472.33 235.54 L471.47 234.26 L471.31 232.72 L471.90 231.34 L473.07 230.48 L474.53 230.38 L475.87 231.06 Z"/>
<path d="M475.50 233.30 L475.31 234.05 L474.80 234.60 L474.10 234.80 L473.40 234.60 L472.89 234.05 L472.70 233.30 L472.89 232.55 L473.40 232.00 L474.10 231.80 L474.80 232.00 L475.31 232.55 Z"/>
<path d="M492.13 228.54 L492.29 230.08 L491.70 231.46 L490.53 232.32 L489.07 232.42 L487.73 231.74 L486.87 230.46 L486.71 228.92 L487.30 227.54 L488.47 226.68 L489.93 226.58 L491.27 227.26 Z"/>
<path d="M490.90 229.50 L490.71 230.25 L490.20 230.80 L489.50 231.00 L488.80 230.80 L488.29 230.25 L488.10 229.50 L488.29 228.75 L488.80 228.20 L489.50 228.00 L490.20 228.20 L490.71 228.75 Z"/>
<path d="M492.13 240.74 L492.29 242.28 L491.70 243.66 L490.53 244.52 L489.07 244.62 L487.73 243.94 L486.87 242.66 L486.71 241.12 L487.30 239.74 L488.47 238.88 L489.93 238.78 L491.27 239.46 Z"/>
<path d="M490.90 241.70 L490.71 242.45 L490.20 243.00 L489.50 243.20 L488.80 243.00 L488.29 242.45 L488.10 241.70 L488.29 240.95 L488.80 240.40 L489.50 240.20 L490.20 240.40 L490.71 240.95 Z"/>
<path d="M473.5 320.1 L480.2 317.9 L499.4 324.6 L499.4 342.6 L492.6 344.9 L473.5 338.1 Z M492.6 327 L499.4 324.6 M492.6 327 L492.6 344.9 M473.5 320.1 L492.6 327"/>
<path d="M477.23 314.64 L477.39 316.18 L476.80 317.56 L475.63 318.42 L474.17 318.52 L472.83 317.84 L471.97 316.56 L471.81 315.02 L472.40 313.64 L473.57 312.78 L475.03 312.68 L476.37 313.36 Z"/>
<path d="M476.73 321.44 L476.89 322.98 L476.30 324.36 L475.13 325.22 L473.67 325.32 L472.33 324.64 L471.47 323.36 L471.31 321.82 L471.90 320.44 L473.07 319.58 L474.53 319.48 L475.87 320.16 Z"/>
<path d="M478.33 331.54 L478.49 333.08 L477.90 334.46 L476.73 335.32 L475.27 335.42 L473.93 334.74 L473.07 333.46 L472.91 331.92 L473.50 330.54 L474.67 329.68 L476.13 329.58 L477.47 330.26 Z"/>
<path d="M492.43 329.84 L492.59 331.38 L492.00 332.76 L490.83 333.62 L489.37 333.72 L488.03 333.04 L487.17 331.76 L487.01 330.22 L487.60 328.84 L488.77 327.98 L490.23 327.88 L491.57 328.56 Z"/>
<path d="M492.43 341.14 L492.59 342.68 L492.00 344.06 L490.83 344.92 L489.37 345.02 L488.03 344.34 L487.17 343.06 L487.01 341.52 L487.60 340.14 L488.77 339.28 L490.23 339.18 L491.57 339.86 Z"/>
<path d="M492.00 344.00 L491.76 345.71 L491.06 347.21 L490.00 348.33 L488.69 348.92 L487.31 348.92 L486.00 348.33 L484.94 347.21 L484.24 345.71 L484.00 344.00 L484.24 342.29 L484.94 340.79 L486.00 339.67 L487.31 339.08 L488.69 339.08 L490.00 339.67 L491.06 340.79 L491.76 342.29 Z"/>
<path d="M501 361.7 L501 387.6 M501 361.7 L505 357 L523 358 L533 352.6 M501 387.6 L511.7 383.1 L523 382 L532 376.4 L538.7 377.5 L550 384.2"/>
<path d="M524.1 370.7 L545.5 364 M518 380.6 L531.1 375.9 L548.9 385.3 M523.6 372.2 L533 367.5 L544.2 364.7 L549.9 360.9"/>
<path d="M543.75 373.70 L544.33 375.39 L544.14 376.98 L543.25 378.03 L541.89 378.27 L540.42 377.64 L539.25 376.30 L538.67 374.61 L538.86 373.02 L539.75 371.97 L541.11 371.73 L542.58 372.36 Z"/>
<path d="M549.4 360 L549.9 389 Q552 392.5 555.5 392.3 Q561 392 563.9 388.1 L563.9 356.2 M558.8 360 L558.8 392 M566.7 356.2 L566.7 372 L564 375"/>
<path d="M549 346 Q551 343 556 344 L565 349 L565 358 L559 360 L549 360 Z M553 348 L557 357"/>
<path d="M558.60 348.00 L558.25 349.30 L557.30 350.25 L556.00 350.60 L554.70 350.25 L553.75 349.30 L553.40 348.00 L553.75 346.70 L554.70 345.75 L556.00 345.40 L557.30 345.75 L558.25 346.70 Z"/>
<path d="M597.05 246.65 L597.69 248.50 L598.13 250.38 L598.36 252.24 L598.38 254.02 L598.18 255.69 L597.76 257.19 L597.15 258.50 L596.35 259.57 L595.39 260.39 L594.28 260.92 L593.07 261.15 L591.77 261.09 L590.43 260.72 L589.08 260.06 L587.76 259.13 L586.49 257.95 L585.31 256.55 L584.25 254.97 L583.34 253.25 L582.61 251.43 L582.06 249.56 L581.73 247.69 L581.60 245.86 L581.69 244.13 L582.00 242.54 L582.52 241.13 L583.23 239.93 L584.11 238.99 L585.15 238.31 L586.31 237.93 L587.57 237.84 L588.89 238.06 L590.24 238.57 L591.59 239.37 L592.89 240.43 L594.12 241.72 L595.24 243.22 L596.22 244.88 Z"/>
<path d="M584.5 252.5 Q585 244.5 592 240.0"/>
<path d="M587.4 246.5 L592 246.0 L592 251.5 L587.4 252.5 Z"/>
<path d="M582.2 245.5 L582.2 258.0"/>
<path d="M572.3 251.5 L572.3 245.5 Q573.5 239.5 582.2 233.5 M575.4 255.5 L575.4 247.5 Q577 241.5 583.1 235.5"/>
<path d="M583 234.5 L566.7 228.5 M586 259.0 L564.4 251.0"/>
<path d="M597.05 270.45 L597.69 272.30 L598.13 274.18 L598.36 276.04 L598.38 277.82 L598.18 279.49 L597.76 280.99 L597.15 282.30 L596.35 283.37 L595.39 284.19 L594.28 284.72 L593.07 284.95 L591.77 284.89 L590.43 284.52 L589.08 283.86 L587.76 282.93 L586.49 281.75 L585.31 280.35 L584.25 278.77 L583.34 277.05 L582.61 275.23 L582.06 273.36 L581.73 271.49 L581.60 269.66 L581.69 267.93 L582.00 266.34 L582.52 264.93 L583.23 263.73 L584.11 262.79 L585.15 262.11 L586.31 261.73 L587.57 261.64 L588.89 261.86 L590.24 262.37 L591.59 263.17 L592.89 264.23 L594.12 265.52 L595.24 267.02 L596.22 268.68 Z"/>
<path d="M584.5 276.3 Q585 268.3 592 263.8"/>
<path d="M587.4 270.3 L592 269.8 L592 275.3 L587.4 276.3 Z"/>
<path d="M582.2 269.3 L582.2 281.8"/>
<path d="M572.3 275.3 L572.3 269.3 Q573.5 263.3 582.2 257.3 M575.4 279.3 L575.4 271.3 Q577 265.3 583.1 259.3"/>
<path d="M583 258.3 L566.7 252.3 M586 282.8 L564.4 274.8"/>
<path d="M597.05 293.65 L597.69 295.50 L598.13 297.38 L598.36 299.24 L598.38 301.02 L598.18 302.69 L597.76 304.19 L597.15 305.50 L596.35 306.57 L595.39 307.39 L594.28 307.92 L593.07 308.15 L591.77 308.09 L590.43 307.72 L589.08 307.06 L587.76 306.13 L586.49 304.95 L585.31 303.55 L584.25 301.97 L583.34 300.25 L582.61 298.43 L582.06 296.56 L581.73 294.69 L581.60 292.86 L581.69 291.13 L582.00 289.54 L582.52 288.13 L583.23 286.93 L584.11 285.99 L585.15 285.31 L586.31 284.93 L587.57 284.84 L588.89 285.06 L590.24 285.57 L591.59 286.37 L592.89 287.43 L594.12 288.72 L595.24 290.22 L596.22 291.88 Z"/>
<path d="M584.5 299.5 Q585 291.5 592 287.0"/>
<path d="M587.4 293.5 L592 293.0 L592 298.5 L587.4 299.5 Z"/>
<path d="M582.2 292.5 L582.2 305.0"/>
<path d="M572.3 298.5 L572.3 292.5 Q573.5 286.5 582.2 280.5 M575.4 302.5 L575.4 294.5 Q577 288.5 583.1 282.5"/>
<path d="M583 281.5 L566.7 275.5 M586 306.0 L564.4 298.0"/>
<path d="M597.05 316.65 L597.69 318.50 L598.13 320.38 L598.36 322.24 L598.38 324.02 L598.18 325.69 L597.76 327.19 L597.15 328.50 L596.35 329.57 L595.39 330.39 L594.28 330.92 L593.07 331.15 L591.77 331.09 L590.43 330.72 L589.08 330.06 L587.76 329.13 L586.49 327.95 L585.31 326.55 L584.25 324.97 L583.34 323.25 L582.61 321.43 L582.06 319.56 L581.73 317.69 L581.60 315.86 L581.69 314.13 L582.00 312.54 L582.52 311.13 L583.23 309.93 L584.11 308.99 L585.15 308.31 L586.31 307.93 L587.57 307.84 L588.89 308.06 L590.24 308.57 L591.59 309.37 L592.89 310.43 L594.12 311.72 L595.24 313.22 L596.22 314.88 Z"/>
<path d="M584.5 322.5 Q585 314.5 592 310.0"/>
<path d="M587.4 316.5 L592 316.0 L592 321.5 L587.4 322.5 Z"/>
<path d="M582.2 315.5 L582.2 328.0"/>
<path d="M572.3 321.5 L572.3 315.5 Q573.5 309.5 582.2 303.5 M575.4 325.5 L575.4 317.5 Q577 311.5 583.1 305.5"/>
<path d="M583 304.5 L566.7 298.5 M586 329.0 L564.4 321.0"/>
<path d="M597.05 351.55 L597.69 353.40 L598.13 355.28 L598.36 357.14 L598.38 358.92 L598.18 360.59 L597.76 362.09 L597.15 363.40 L596.35 364.47 L595.39 365.29 L594.28 365.82 L593.07 366.05 L591.77 365.99 L590.43 365.62 L589.08 364.96 L587.76 364.03 L586.49 362.85 L585.31 361.45 L584.25 359.87 L583.34 358.15 L582.61 356.33 L582.06 354.46 L581.73 352.59 L581.60 350.76 L581.69 349.03 L582.00 347.44 L582.52 346.03 L583.23 344.83 L584.11 343.89 L585.15 343.21 L586.31 342.83 L587.57 342.74 L588.89 342.96 L590.24 343.47 L591.59 344.27 L592.89 345.33 L594.12 346.62 L595.24 348.12 L596.22 349.78 Z"/>
<path d="M584.5 357.4 Q585 349.4 592 344.9"/>
<path d="M587.4 351.4 L592 350.9 L592 356.4 L587.4 357.4 Z"/>
<path d="M582.2 350.4 L582.2 362.9"/>
<path d="M572.3 356.4 L572.3 350.4 Q573.5 344.4 582.2 338.4 M575.4 360.4 L575.4 352.4 Q577 346.4 583.1 340.4"/>
<path d="M583 339.4 L566.7 333.4 M586 363.9 L564.4 355.9"/>
<path d="M561.0 231.4 L561.0 228.2 Q561.4 225.4 564.2 224.8"/>
<path d="M558.7 232.8 L558.7 227.7 Q559.3 223.3 563.7 222.4"/>
<path d="M556.4 234.2 L556.4 227.3 Q557.3 221.3 563.3 220.0"/>
<path d="M554.1 235.5 L554.1 226.8 Q555.2 219.2 562.8 217.6"/>
<path d="M551.8 236.9 L551.8 226.4 Q553.1 217.1 562.4 215.1"/>
<path d="M549.5 238.3 L549.5 225.9 Q551.0 215.1 561.9 212.7"/>
<path d="M547.2 239.7 L547.2 225.4 Q549.0 213.0 561.4 210.3"/>
<path d="M568.08 227.80 L568.87 229.65 L569.09 231.37 L568.70 232.62 L567.78 233.15 L566.50 232.86 L565.13 231.81 L563.92 230.20 L563.13 228.35 L562.91 226.63 L563.30 225.38 L564.22 224.85 L565.50 225.14 L566.87 226.19 Z"/>
<path d="M570.68 229.30 L571.47 231.15 L571.69 232.87 L571.30 234.12 L570.38 234.65 L569.10 234.36 L567.73 233.31 L566.52 231.70 L565.73 229.85 L565.51 228.13 L565.90 226.88 L566.82 226.35 L568.10 226.64 L569.47 227.69 Z"/>
<path d="M573.28 230.80 L574.07 232.65 L574.29 234.37 L573.90 235.62 L572.98 236.15 L571.70 235.86 L570.33 234.81 L569.12 233.20 L568.33 231.35 L568.11 229.63 L568.50 228.38 L569.42 227.85 L570.70 228.14 L572.07 229.19 Z"/>
<path d="M575.88 232.30 L576.67 234.15 L576.89 235.87 L576.50 237.12 L575.58 237.65 L574.30 237.36 L572.93 236.31 L571.72 234.70 L570.93 232.85 L570.71 231.13 L571.10 229.88 L572.02 229.35 L573.30 229.64 L574.67 230.69 Z"/>
<path d="M578.48 233.80 L579.27 235.65 L579.49 237.37 L579.10 238.62 L578.18 239.15 L576.90 238.86 L575.53 237.81 L574.32 236.20 L573.53 234.35 L573.31 232.63 L573.70 231.38 L574.62 230.85 L575.90 231.14 L577.27 232.19 Z"/>
<path d="M552.0 304.4 L552.0 301.2 Q552.4 298.4 555.2 297.8"/>
<path d="M549.7 305.8 L549.7 300.7 Q550.3 296.3 554.7 295.4"/>
<path d="M547.4 307.2 L547.4 300.3 Q548.3 294.3 554.3 293.0"/>
<path d="M545.1 308.5 L545.1 299.8 Q546.2 292.2 553.8 290.6"/>
<path d="M542.8 309.9 L542.8 299.4 Q544.1 290.1 553.4 288.1"/>
<path d="M540.5 311.3 L540.5 298.9 Q542.0 288.1 552.9 285.7"/>
<path d="M559.08 300.80 L559.87 302.65 L560.09 304.37 L559.70 305.62 L558.78 306.15 L557.50 305.86 L556.13 304.81 L554.92 303.20 L554.13 301.35 L553.91 299.63 L554.30 298.38 L555.22 297.85 L556.50 298.14 L557.87 299.19 Z"/>
<path d="M561.68 302.30 L562.47 304.15 L562.69 305.87 L562.30 307.12 L561.38 307.65 L560.10 307.36 L558.73 306.31 L557.52 304.70 L556.73 302.85 L556.51 301.13 L556.90 299.88 L557.82 299.35 L559.10 299.64 L560.47 300.69 Z"/>
<path d="M564.28 303.80 L565.07 305.65 L565.29 307.37 L564.90 308.62 L563.98 309.15 L562.70 308.86 L561.33 307.81 L560.12 306.20 L559.33 304.35 L559.11 302.63 L559.50 301.38 L560.42 300.85 L561.70 301.14 L563.07 302.19 Z"/>
<path d="M566.88 305.30 L567.67 307.15 L567.89 308.87 L567.50 310.12 L566.58 310.65 L565.30 310.36 L563.93 309.31 L562.72 307.70 L561.93 305.85 L561.71 304.13 L562.10 302.88 L563.02 302.35 L564.30 302.64 L565.67 303.69 Z"/>
<path d="M552.0 326.4 L552.0 323.2 Q552.4 320.4 555.2 319.8"/>
<path d="M549.7 327.8 L549.7 322.7 Q550.3 318.3 554.7 317.4"/>
<path d="M547.4 329.2 L547.4 322.3 Q548.3 316.3 554.3 315.0"/>
<path d="M545.1 330.5 L545.1 321.8 Q546.2 314.2 553.8 312.6"/>
<path d="M542.8 331.9 L542.8 321.4 Q544.1 312.1 553.4 310.1"/>
<path d="M540.5 333.3 L540.5 320.9 Q542.0 310.1 552.9 307.7"/>
<path d="M559.08 322.80 L559.87 324.65 L560.09 326.37 L559.70 327.62 L558.78 328.15 L557.50 327.86 L556.13 326.81 L554.92 325.20 L554.13 323.35 L553.91 321.63 L554.30 320.38 L555.22 319.85 L556.50 320.14 L557.87 321.19 Z"/>
<path d="M561.68 324.30 L562.47 326.15 L562.69 327.87 L562.30 329.12 L561.38 329.65 L560.10 329.36 L558.73 328.31 L557.52 326.70 L556.73 324.85 L556.51 323.13 L556.90 321.88 L557.82 321.35 L559.10 321.64 L560.47 322.69 Z"/>
<path d="M564.28 325.80 L565.07 327.65 L565.29 329.37 L564.90 330.62 L563.98 331.15 L562.70 330.86 L561.33 329.81 L560.12 328.20 L559.33 326.35 L559.11 324.63 L559.50 323.38 L560.42 322.85 L561.70 323.14 L563.07 324.19 Z"/>
<path d="M566.88 327.30 L567.67 329.15 L567.89 330.87 L567.50 332.12 L566.58 332.65 L565.30 332.36 L563.93 331.31 L562.72 329.70 L561.93 327.85 L561.71 326.13 L562.10 324.88 L563.02 324.35 L564.30 324.64 L565.67 325.69 Z"/>
<path d="M554 254 L557 250.5 L562 251 L564 257 L561 261 L556 260.5 Z M558 251 L559 261 M562 252 L562.5 260"/>
<path d="M554 335 L557 331.5 L562 332 L564 338 L561 342 L556 341.5 Z M558 332 L559 342 M562 333 L562.5 341"/>
<path d="M556 258.5 L540 260.5 Q534 263.5 535 270.5 Q536 277.5 541 279.5 L557 281.5"/>
<path d="M565.06 269.41 L565.43 271.41 L565.47 273.34 L565.19 275.05 L564.59 276.43 L563.73 277.37 L562.66 277.80 L561.47 277.69 L560.25 277.05 L559.08 275.92 L558.05 274.38 L557.25 272.56 L556.72 270.59 L556.51 268.61 L556.63 266.77 L557.07 265.21 L557.81 264.04 L558.79 263.35 L559.92 263.19 L561.14 263.57 L562.35 264.46 L563.46 265.81 L564.38 267.50 Z"/>
<path d="M563.51 269.83 L563.82 271.85 L563.64 273.64 L563.01 274.89 L562.02 275.37 L560.87 275.02 L559.73 273.88 L558.81 272.16 L558.27 270.15 L558.21 268.21 L558.62 266.65 L559.45 265.77 L560.55 265.70 L561.72 266.46 L562.77 267.92 Z"/>
<path d="M549 260.0 Q545 270.5 549 280.5 M544 260.5 Q540 270.5 544 280.0"/>
<path d="M556 337.5 L540 339.5 Q534 342.5 535 349.5 Q536 356.5 541 358.5 L557 360.5"/>
<path d="M565.06 348.41 L565.43 350.41 L565.47 352.34 L565.19 354.05 L564.59 355.43 L563.73 356.37 L562.66 356.80 L561.47 356.69 L560.25 356.05 L559.08 354.92 L558.05 353.38 L557.25 351.56 L556.72 349.59 L556.51 347.61 L556.63 345.77 L557.07 344.21 L557.81 343.04 L558.79 342.35 L559.92 342.19 L561.14 342.57 L562.35 343.46 L563.46 344.81 L564.38 346.50 Z"/>
<path d="M563.51 348.83 L563.82 350.85 L563.64 352.64 L563.01 353.89 L562.02 354.37 L560.87 354.02 L559.73 352.88 L558.81 351.16 L558.27 349.15 L558.21 347.21 L558.62 345.65 L559.45 344.77 L560.55 344.70 L561.72 345.46 L562.77 346.92 Z"/>
<path d="M549 339.0 Q545 349.5 549 359.5 M544 339.5 Q540 349.5 544 359.0"/>
<path d="M533 238 Q533 232 539 232 L551 236 L552.7 246 L548 250.5 L538 249 Q533 246 533 242 Z M537 240 Q542 236 547 240 L548 247"/>
</g>
<g id="t3">
<!-- bolt near clamp -->
<path d="M323 327 L326 324 L331 324 L334 327 L333.5 334 L323.5 334 Z M326 324 L326 334 M331 324 L331 334"/>
<path d="M325 334 L325 353 Q328 355 331 353 L331 334 M325 339 h6 M325 343 h6 M325 347 h6 M325 350 h6"/>
<path d="M331 340 L350 331"/>
<ellipse cx="327.5" cy="362.5" rx="5" ry="3"/><ellipse cx="327.5" cy="362.5" rx="2.5" ry="1.4"/>
<path d="M333.75 361 L350 357.5"/>
<!-- bolt 2 -->
<path d="M398 333 L401 330 L406 330 L409 333 L408.5 341 L398.5 341 Z M401 330 L401 341 M406 330 L406 341"/>
<path d="M400 341 L400 355 Q403 357 406 355 L406 341 M400 345 h6 M400 348.5 h6 M400 352 h6"/>
<path d="M408.75 345 L416 343"/>
<ellipse cx="403.75" cy="364.5" rx="5" ry="3"/><ellipse cx="403.75" cy="364.5" rx="2.5" ry="1.4"/>
<path d="M409 365 L416 365.5"/>
<path d="M403.75 367.5 L403.75 391 L380 403.75 L380 418.75"/>
<!-- bracket -->
<path d="M361.5 402 L367 399 L373.5 402 L373.5 420 L367 423 L361.5 420 Z M367 405 L367 423 M361.5 402 L367 405 L373.5 402"/>
<circle cx="369.5" cy="407.5" r="1.2"/>
<path d="M306 463.5 L315 455 L322.5 438 L352.5 419 L407.5 442.5 L410 494 L400 496.5 L400 452 L367.5 432 L356 437 L349 456 L343 466 L330 477 L306 463.5 Z"/>
<path d="M306 463.5 L306 466 L329 479 L330 477 M352.5 419 L356 422 L400 447 L400 452"/>
<path d="M330 479 Q340 472 345 466"/>
<ellipse cx="380.5" cy="420.5" rx="3" ry="2"/>
<circle cx="315" cy="463.5" r="1.5"/><circle cx="356" cy="427.5" r="1.5"/>
<circle cx="406" cy="455" r="1.5"/><circle cx="406" cy="490" r="1.5"/>
<path d="M318.75 473.75 L310 491"/>
<!-- bolt 3 lower -->


<path d="M363.75 506 L381 527.5"/>
<path d="M407.32 517.72 L407.76 519.60 L407.70 521.35 L407.16 522.70 L406.21 523.45 L405.00 523.48 L403.72 522.80 L402.55 521.50 L401.68 519.78 L401.24 517.90 L401.30 516.15 L401.84 514.80 L402.79 514.05 L404.00 514.02 L405.28 514.70 L406.45 516.00 Z"/><ellipse cx="404.5" cy="518.75" rx="1.5" ry="2.5"/>
<path d="M390 488.75 L403.75 515"/>
<path d="M407.5 516 L427.5 505 L445 516 L471 500"/>
<!-- bolt 4 -->
<path d="M470.5 443 L473.5 439.5 L478.5 439.5 L481.5 443 L481 450 L471 450 Z M473.5 439.5 L473.5 450 M478.5 439.5 L478.5 450"/>
<path d="M472.5 450 L472.5 472 Q476 474 479 472 L479 450 M472.5 459 h6.5 M472.5 463 h6.5 M472.5 467 h6.5"/>
<path d="M443.75 457.5 L470 459"/>
<ellipse cx="475" cy="483" rx="5" ry="3"/><ellipse cx="475" cy="483" rx="2.5" ry="1.4"/>
<path d="M443.75 485 L470 484"/>
<path d="M475 486 L475 529"/>
<!-- flange right -->
<path d="M495.1 480 L504.1 476 L522 485 Q525.5 487 525.5 492 L526.2 506 Q526 509 522 510.5 L517.2 512 M495.1 480 L495.1 494 L517.2 512 M495.1 480 L519 492.5 L519.2 512"/>
<ellipse cx="499.1" cy="484" rx="1.3" ry="2.2"/><ellipse cx="516.2" cy="494.5" rx="1.3" ry="2.2"/><ellipse cx="516.2" cy="508" rx="1.3" ry="2.2"/>
<path d="M500 491 Q507 492 510 500 L511 503 M507 489 Q511 492 512.5 498"/>
<!-- O-ring -->
<path d="M540.71 478.40 L541.35 480.16 L541.66 481.95 L541.61 483.65 L541.20 485.16 L540.47 486.39 L539.46 487.25 L538.23 487.69 L536.86 487.69 L535.44 487.24 L534.05 486.37 L532.78 485.15 L531.72 483.63 L530.93 481.93 L530.45 480.14 L530.32 478.38 L530.55 476.76 L531.13 475.39 L532.00 474.33 L533.13 473.68 L534.44 473.46 L535.85 473.68 L537.27 474.34 L538.60 475.40 L539.78 476.78 Z"/>
<path d="M540.6 486.2 L552.8 504"/>
<path d="M515 512 L519.2 525"/>
<!-- pipe lower -->
<path d="M478.1 496.6 L495.1 487 M474.6 507 L495.6 493.5 M478 521.6 L505.1 507"/>
<path d="M472 508 Q461 515 458 525 Q456.5 537 462 545 Q466 550 472 553" stroke-dasharray="2 1"/>
<path d="M481 541 L494 550"/>
<!-- clamp 2 -->
<path d="M468.6 528 L493 518 L499.1 522 L499.1 530 L494 534 L489 531 Q484 530 482 535 L482 539 L475 542 L468.6 538 Z M468.6 528 L475 532 L475 542 M475 532 L499.1 522"/>
<ellipse cx="475" cy="529" rx="1.8" ry="1"/>
<path d="M490 521 Q492 519 496 521"/>
<!-- clamp 3 -->
<path d="M468.6 557 L476 553 L480 555 L486 558 L486 566 L476 569 L468.6 565 Z M468.6 557 L476 561 L476 569 M476 561 L486 558"/>
<ellipse cx="475" cy="556" rx="2" ry="1.2"/>
<path d="M440 547.2 L446 547.2 M446 533.1 L446 561.2 M446 533.1 L468.6 533.1 M446 561.2 L468.6 561.2"/>
<!-- flange b -->
<path d="M488 556 Q490 549 496 548 L502 551 L509 560 Q511 566 508 575 L504 585 Q500 588 495 585 L486 578 Q483 572 485 565 Z"/>
<path d="M494 553 L505 560 L503 585 M505 560 L509 563"/>
<path d="M511 564 Q510 575 506 580" stroke-dasharray="2 1"/>
<ellipse cx="492.1" cy="570.2" rx="3" ry="4.5"/>
<ellipse cx="491" cy="557" rx="0.9" ry="1.5"/><ellipse cx="497.6" cy="563" rx="0.9" ry="1.5"/><ellipse cx="487" cy="578" rx="0.9" ry="1.5"/><ellipse cx="493.6" cy="582" rx="0.9" ry="1.5"/>
<path d="M482 550 Q486 547 492 548"/>
<!-- arrow b -->
<path d="M416 580 L455 575 M461 574.2 L484 571.2"/>
<path d="M455.5 574.5 L437.5 573 L439 579.5 Z" fill="#000"/>
<path d="M475 576 L475 600"/>
<!-- green circle -->
<circle cx="527.5" cy="543.4" r="18" fill="#008000" stroke="#000" stroke-width="5"/>
<text x="520" y="552.2" font-family="Liberation Sans" font-size="12.5" fill="#e8f4e8" stroke="none">5</text>
</g>

<g id="t4">
<!-- letter b -->
<path d="M398.5 571 L398.5 594 M398.5 584 Q399 577 404 577 Q409 578 409 585.5 Q409 594 404 594 Q399 593 398.5 588"/>
<!-- line from flange down to plate -->
<path d="M475 578 L475 607.5 L517.5 591 L517.5 639"/>
<!-- plate -->
<path d="M492.5 623 L515 609 L537.5 629 L539 635 L515 646 L492.5 628 Z"/>
<path d="M492.5 628 L494 631 L515 648 L539 638 L539 635"/>
<circle cx="517.5" cy="638.5" r="1.8"/><circle cx="535" cy="631" r="1.5"/><circle cx="498" cy="633" r="1.5"/><circle cx="515" cy="644" r="1.2"/>
<!-- arm -->
<path d="M517.5 609 L542.5 561 M532.5 620 L535 617 L555 585 Q559 575 560 564 L542.5 555 L542 561"/>
<path d="M535 622 L557 590 Q562 578 563 566 L560 564"/>
<circle cx="545" cy="560" r="1.3"/><circle cx="553" cy="565" r="1.3"/>
<path d="M530 610 L532 620"/>
<path d="M541 569 L596 606 L577.5 615"/>
<path d="M560 569 L590 566"/>
<!-- washer & bolt right -->
<path d="M580.10 614.50 L580.79 616.21 L580.91 617.89 L580.44 619.24 L579.47 620.03 L578.15 620.12 L576.72 619.50 L575.43 618.28 L574.49 616.66 L574.08 614.92 L574.25 613.38 L574.99 612.28 L576.16 611.83 L577.57 612.10 L578.96 613.04 Z"/><path d="M578.71 615.30 L579.10 616.35 L579.06 617.30 L578.60 617.91 L577.85 618.00 L577.00 617.56 L576.29 616.70 L575.90 615.65 L575.94 614.70 L576.40 614.09 L577.15 614.00 L578.00 614.44 Z"/>
<path d="M580 620 L590 646"/>


<path d="M559 633 L559 667.5"/>
<!-- bracket 2 -->
<path d="M413.75 662.5 L460 656 L472.5 644 L491 654 L491 660 L477.5 670 L431 675 L413.75 666 Z"/>
<path d="M413.75 666 L415 668 L431 677 L477.5 672 L491 662 L491 660"/>
<path d="M460 656 L478 664"/>
<circle cx="420" cy="663.5" r="1.5"/><circle cx="472.5" cy="650" r="1.5"/><circle cx="484" cy="656.5" r="1.5"/><circle cx="433" cy="670" r="1.8"/>
<path d="M495 637.5 L430 676 L410 686"/>
<path d="M426 657 L461 655"/>
<path d="M461 672.5 L467.5 690"/>
<!-- bolt 5 -->
<path d="M416 621 L419 617.5 L424 617.5 L427 621 L426.5 628 L416.5 628 Z M419 617.5 L419 628 M424 617.5 L424 628"/>
<path d="M418 628 L418 642 Q421.5 644 425 642 L425 628 M418 632 h7 M418 635.5 h7 M418 639 h7"/>
<path d="M394 626 L416 629"/>
<ellipse cx="421" cy="652" rx="5" ry="3"/><ellipse cx="421" cy="652" rx="2.5" ry="1.4"/>
<path d="M394 654 L416 652.5"/>
<!-- bolt 6 -->


<path d="M390 705 L389.5 739"/>
<path d="M409.92 685.60 L410.58 687.37 L410.52 689.06 L409.78 690.27 L408.51 690.74 L407.01 690.35 L405.62 689.19 L404.67 687.53 L404.36 685.75 L404.77 684.26 L405.81 683.39 L407.23 683.35 L408.72 684.15 Z"/><path d="M408.63 686.35 L408.98 687.30 L408.93 688.17 L408.50 688.73 L407.80 688.83 L407.02 688.43 L406.37 687.65 L406.02 686.70 L406.07 685.83 L406.50 685.27 L407.20 685.17 L407.98 685.57 Z"/>
<path d="M410 690 L421 716"/>
</g>

<g id="t5">
<!-- hose 1 upper -->
<path d="M645 630 Q655 608 675 598 Q695 590 712 596 L726 605"/>
<path d="M698.75 560 L695 594"/>
<path d="M637.5 631 L646 636 L616 691 L606 687.5 Z"/>
<path d="M618 665 L629 669"/>
<path d="M632 640 l4 3 M630 645 l4 3 M628 650 l4 3 M626 655 l4 3"/>
<path d="M606 687.5 Q599 697 598 711 M616 691 Q609 700 609 712"/>
<path d="M730 602.5 L785 632.5 M729 611 L780 640 M730 602.5 L729 611"/>
<path d="M760 618 L759 626 M770 624 L768 633"/>
<path d="M738 610 l1 6 M743 613 l1 6 M748 616 l1 6 M753 619 l1 6"/>
<path d="M783.1 630 Q780 634 777.5 640.2 M783.1 630 L797.7 640.2 M777.5 640.2 L794 647.7"/>
<!-- flange at upper hose end -->
<path d="M789.5 652 Q789 645 795 642 L803 639 Q811 638.5 815 643 L815 648 Q813 654 806 657 L797 660.5 Q791 661 789.5 657 Z"/>
<path d="M789.5 652 L797 654 L797 660.5 M797 654 Q800 652 801 650"/>
<path d="M807.55 646.30 L807.93 648.05 L807.79 649.77 L807.17 651.23 L806.12 652.27 L804.78 652.76 L803.31 652.63 L801.89 651.92 L800.69 650.69 L799.85 649.10 L799.47 647.35 L799.61 645.63 L800.23 644.17 L801.28 643.13 L802.62 642.64 L804.09 642.77 L805.51 643.48 L806.71 644.71 Z"/><path d="M805.86 646.91 L806.08 648.43 L805.67 649.75 L804.73 650.52 L803.51 650.53 L802.34 649.79 L801.54 648.49 L801.32 646.97 L801.73 645.65 L802.67 644.88 L803.89 644.87 L805.06 645.61 Z"/>
<circle cx="811.5" cy="644" r="1.2"/><circle cx="795" cy="657" r="1.2"/>
<!-- bolt, washer, half clamp -->
<path d="M769 554 L768.5 583"/>
<path d="M759.5 585 L763 580.5 L768.5 580.5 L771 586 L769 592 L763 592.6 L759.5 589 Z M763 580.5 L765 587 L763 592.6 M765 587 L771 586"/>
<path d="M770.7 587 L784.6 595.2 L782 599.7 L766.2 592.2 M775 589.5 l-2 4 M778.5 591.5 l-2 4 M781.5 593.5 l-2 4"/>
<path d="M798.5 575 L793.6 596.7"/>
<path d="M794.85 603.56 L793.86 605.10 L792.55 606.21 L791.10 606.75 L789.71 606.66 L788.55 605.93 L787.79 604.67 L787.54 603.06 L787.82 601.30 L788.59 599.63 L789.76 598.28 L791.17 597.44 L792.61 597.21 L793.91 597.63 L794.89 598.64 L795.40 600.10 L795.39 601.82 Z"/><path d="M793.13 602.76 L792.36 603.84 L791.36 604.42 L790.40 604.36 L789.73 603.66 L789.54 602.52 L789.87 601.24 L790.64 600.16 L791.64 599.58 L792.60 599.64 L793.27 600.34 L793.46 601.48 Z"/>
<path d="M822.5 591.1 L811.2 605.7"/>
<path d="M789.5 618.1 L799.2 609.5 L807.5 607.2 L814.2 611 L814.6 615.9 L809 617 M794.4 620.4 L803 612.5 L812 610.2 M789.5 618.1 L789.5 625.2 L793.2 627.8 L798.1 626.4 L798.5 621.5 L794.4 620.4 M801 619 L806 616 L809 618"/>
<circle cx="811.5" cy="613.5" r="1"/><circle cx="796" cy="622.5" r="1"/>
<!-- O-ring a & arrow a -->
<path d="M832.5 629 L823.5 653.7"/>
<ellipse cx="821" cy="658" rx="4.5" ry="5.2"/>
<path d="M825 660.5 L858 680.7"/>
<path d="M858 680.7 L843 670.5 L846 676 Z" fill="#000"/>
<path d="M857.5 663 Q859 658 862 658 Q865.5 658 865.5 663 L865.5 674.5 M865.5 667 Q863 665 859.5 666 Q856.5 668 857 671.5 Q858 675 861 674.5 Q864 674 865.5 671"/>
<!-- hose 2 lower -->
<path d="M625.1 705.2 L669.6 679.8 L673.6 685.5 L673.6 691.3 L630.9 713.9 M625.1 705.2 Q626 711 630.9 713.9"/>
<path d="M636.6 699.4 Q636 703 641.3 706.4"/>
<path d="M645 703 l3 -3 M651 700 l3 -3 M657 697 l3 -3 M663 694 l3 -3 M668 691.5 l3 -3"/>
<path d="M619.3 712.1 L625.1 705.2 M621 716 L627 710"/>
<path d="M673 683 Q690 674 710 676 Q735 681 755 692.5"/>
<path d="M707.5 647.5 L704 675"/>
<path d="M755 692.5 Q790 705 820 703 L852 700"/>
<path d="M755 692.5 L755 700 Q780 712 810 716 Q830 714 850 708.5"/>
<path d="M820 703 Q822 708 820 715 M838 701 Q841 705 839 711"/>
<path d="M770 706 l3 2 M780 710 l3 2 M790 712 l3 2 M800 714 l3 2"/>
<!-- flange lower right -->
<path d="M848 705 Q850 690 857 688.5 L864 693 Q868 704 866 713 Q862 720 856 720 L851 716 Q847 711 848 705 Z"/>
<path d="M853 695 Q857 690 861 694 Q864 705 861 715"/>
<circle cx="855" cy="693" r="1"/><circle cx="858" cy="697" r="1"/><circle cx="854" cy="714" r="1"/><circle cx="859" cy="716" r="1"/>
<!-- O-ring b & arrow b -->
<ellipse cx="875.2" cy="701.7" rx="3.7" ry="6"/>
<path d="M879 701.7 L916.5 696.5"/>
<path d="M916.5 696.5 L900.7 697.5 L901.5 701.7 Z" fill="#000"/>
<path d="M876.7 708.5 L882.7 741.5"/>
<path d="M905.5 709 L905.5 731.7 M905.5 720 Q906 715 910 715 Q914 716 914 723 Q914 731.5 909.5 731.5 Q906 731 905.5 726"/>
<!-- opening hose flanges at motor -->
<path d="M588 715 Q590 707 598 706 L605 706 Q616 709 618 716 L618 722 Q615 728 603 728 Q592 727 588 722 Z"/>
<path d="M588 717 L588 721 M593 722 Q598 725 606 724 Q613 722 614 718"/>
<path d="M598.7 712 Q600 716 606 716 Q611 715 612 711 M598.7 712 L598.7 700 M608.6 713 L608.6 700"/>
<path d="M594 718 Q600 721 608 720 Q612 718 613 716"/>
<circle cx="591" cy="715" r="1.2"/><circle cx="614" cy="709.5" r="1.2"/>
<path d="M606 727 Q608 717 620 716 L628 716 Q636 720 636.7 727 L636.7 731 Q632 737.5 621 737.5 Q610 737 606 733 Z"/>
<path d="M611 731 Q618 735 628 733 Q633 731 634 727 M617.5 723 Q619 727 625 727 Q630 726 631 722 M617.5 723 L617.5 712"/>
<path d="M612 731.5 Q620 734 630 731"/>
<circle cx="610" cy="726" r="1.2"/><circle cx="633" cy="721" r="1.2"/>
<path d="M626 716 Q627 708 633 703 L650 697"/>
</g>

<g id="t6">
<!-- swing motor rear -->
<path d="M569.2 739.4 L586.6 739.4 M586.6 735.6 L586.6 743.6 M586.6 735.6 L597 735.6 M586.6 743.6 L616 743.6"/>

<path d="M597 736.6 L599.5 734 L606 733.8 L608.2 736.6 L606 739.4 L599.5 739.4 Z M616 743.1 L618.5 740.4 L625 740.3 L627.3 743.1 L625 745.8 L618.5 745.8 Z"/>
<path d="M602.5 739.4 L602.5 778 M621.7 745.8 L621.7 787"/>
<ellipse cx="601.5" cy="778.5" rx="4" ry="2.6"/><ellipse cx="621.2" cy="789.2" rx="4" ry="2.6"/>
<!-- top face -->
<path d="M582.5 779.2 L602.2 767 L642.5 790 L620 801.2 Z"/>
<path d="M582.5 779.2 L582.5 786 M583 785 L599 794 L620 806"/>
<path d="M620 801.2 L620 830 M642.5 790 L642.5 829.2 M645 791 L645 828"/>
<path d="M620 817.4 L642.5 806"/>
<ellipse cx="603.1" cy="778.7" rx="4.2" ry="2.4"/><ellipse cx="621.4" cy="789" rx="4.2" ry="2.4"/>
<ellipse cx="591" cy="780.6" rx="1.5" ry="1"/><ellipse cx="598" cy="785.3" rx="1.5" ry="1"/><ellipse cx="606.9" cy="771.7" rx="1.5" ry="1"/><ellipse cx="614.4" cy="776" rx="1.5" ry="1"/><ellipse cx="609.7" cy="791.4" rx="1.5" ry="1"/><ellipse cx="617.2" cy="796" rx="1.5" ry="1"/><ellipse cx="625.6" cy="782" rx="1.5" ry="1"/><ellipse cx="633.1" cy="786.7" rx="1.5" ry="1"/>
<ellipse cx="628" cy="799.8" rx="1.2" ry="1.8"/><ellipse cx="634.5" cy="795.6" rx="1.2" ry="1.8"/>
<!-- valve block on top -->
<path d="M608.7 768.4 L625.6 759 L632 762 M621.9 765.1 L656.5 777.8 M633.1 764.7 L644.4 759 L666.4 772.2 L656.5 777.8 L647.2 787.2 M621.9 773.1 L647.2 787.2 L647.2 792"/>
<ellipse cx="644.4" cy="778.3" rx="4.2" ry="3.6"/><ellipse cx="644.4" cy="779.5" rx="3" ry="2"/>
<ellipse cx="626" cy="766" rx="4" ry="2.6"/><path d="M622 768 Q626 771 630 768"/>
<path d="M634 753 L639 746 L648 745 L651 750 L647 757 L638 759 Z M639 752 L647 749 M634 753 L634 758"/>
<path d="M663 778 L666.4 772.2 L670 776 M662 783 L662 800 M662 786 L675 780"/>
<circle cx="667.5" cy="787" r="1"/><circle cx="667.5" cy="795" r="1"/>
<!-- fitting top elbow and nut -->
<path d="M659.9 743.2 L679.7 742.1 L679.7 750.4 L667 750.7 M670 742.5 L670 750.4 M674.5 742.5 L674.5 750.4 M659.9 743.2 Q658.5 746 659.5 751.5 L655.7 754"/>
<path d="M653.5 755.2 L655.7 750.7 L670 750.7 L673 755.2 L673 760.5 L667 764.2 L659.5 762.7 L654.2 759.7 Z M659.5 757.5 L659.5 762.7 M667 757.5 L667 764.2 M654 756 L659.5 757.5 L667 757.5 L673 755.5"/>
<path d="M634 751.5 L640 745.5 L645.2 744.4 L650.5 747.7 L645.2 756.7 L634.7 760.5 Z M640 745.5 L645 750 L645.2 756.7 M642 747 L648 748.5"/>
<path d="M673.7 753.7 L682 751.5 Q686 753 687.2 757.5 L687.2 765 L682 767.2 L676 763.5 M677 755 Q682 756 684 762 M682 751.5 L684 756 M687 758 L693 756.5 M687 764 L692 762"/>
<ellipse cx="689" cy="746" rx="1" ry="3.5"/>
<path d="M650.5 750 L655.7 750.7 M664 770 L668 766"/>
<!-- housing -->
<path d="M619.8 817.2 L642 805.6 M647.4 791.4 L647.4 825.2 M640.7 807.4 L640.7 830.6"/>
<path d="M615.3 818 L616.2 823.4 L620.7 827.9 Q624 832 627.8 836.8 Q631 845 635.8 850.1 L647.4 853.7 L663.4 855.5 L683 858.2 Q690 856 693.7 851 L693.7 843 L684.8 827.9"/>
<path d="M620.7 825 Q624 838 631 847 L647 851 L663 852 M626 831 Q630 841 637 845 L664 848 M628 829 L640 833 L650 833 L663.4 834 L672 831 L684.8 827.9"/>
<path d="M663.4 802 L685.7 793.2 L692 787.8 L692 779.8 M692.8 790.5 L697.3 794 L697.3 807.4 L695.5 808.3 L695.5 819 L684.8 827.9"/>
<path d="M647.4 820.8 L658.1 815.9 L663.4 816.3 L670.6 814.5 L685.7 807.4 L695.5 803"/>
<path d="M647.4 825.2 L663.4 826.1 L672.3 824.3 L685.7 817.2 L695.5 813.6"/>
<ellipse cx="667.4" cy="820.3" rx="4.9" ry="6.5"/>
<path d="M658 822 L662.5 823 M678.5 819 L678.5 826 M682 817 L682 825"/>
<path d="M663.4 787.8 L663.4 802 M667 786 L672.3 784 L672.3 798.5 M663.4 790 L672 786"/>
<ellipse cx="668" cy="788.5" rx="1.2" ry="1.8"/><ellipse cx="668" cy="795.5" rx="1.2" ry="1.8"/>
<path d="M654 803 L663.4 802 M654.5 805 L654.5 814"/>
<path d="M675 783 L683 781 L686 786 L690 784 M680 790 L683 795 L689 790 L689 780"/>
<path d="M616 810 Q624 812 626 818 L630 824 M617 815 L625 822"/>
<path d="M669 847 Q675 842 683 841 L690 846 L692 851 M680.3 846 Q683 843.5 688 845.5 Q689 849 685 850 Q681 850 680.3 846 Z"/>
<path d="M647.4 853.7 L648.5 859.5 L651 860.8 L658 860.8 L661.6 857 M650.5 854 L650.5 860 M653.5 854.5 L653.5 860.5 M656.5 855 L656.5 860.5"/>
<path d="M666.4 772.2 L680 769 Q689 769 692 773 Q697 780 697.3 794 M692 779.8 L692 773 M686 776 L692 779.8 M688 768 L688 775"/>
<!-- ports -->
<path d="M573.4 792.1 L576.2 789.7 L584.3 786.5 L589.1 798.6 L590.8 801 L590.8 811.6 L581.9 810.8 L579.4 807.5 L573.8 803.5 Z"/>
<path d="M577 792 Q584 790 587.5 799 L588 809 M578.8 797 L579 805 M584 798 Q587 800 587 806 M576.2 789.7 L580 791 M582.5 786 L594 784"/>
<path d="M592.4 802.7 L597.2 797.8 Q602 800 604 804 L608.6 812.4 L610.2 821.3 L600.5 819.7 L592.4 814.8 Z"/>
<path d="M596 803 Q602 804 604.5 811 L605 820 M597.5 808 L597.5 817 M602 809 Q605 811 605 816 M597.2 797.8 L603 795 L620 800"/>
<path d="M580.2 809 L580.2 857.7 M591.2 811.6 L591.2 835 M599.7 819.7 L599.7 835.9 L595.6 835.1 M611 821.3 L611 844.8"/>
<path d="M591.6 836.7 L595.6 835.1 L611 843.2 L607.8 857.7 L601.3 859.4 L591.6 850.4 Z"/>
<path d="M594 842 Q598 840 602 845 L603 853 M596 846 L600 856 M603 846 L608 844"/>
<circle cx="592.5" cy="838" r="0.8"/><circle cx="601" cy="856" r="0.8"/>
<path d="M560 860.2 L591.6 850.4 M591.2 850 L591.2 860.2"/>
<path d="M571.3 861 L592.4 860.2 L593.2 880.4 L572.1 875.5 Z M574 863 L590 862 L592 866 M577 874 L591 878"/>
<ellipse cx="581.9" cy="871.5" rx="4" ry="3"/>
<circle cx="573.5" cy="864" r="0.9"/><circle cx="573.8" cy="873" r="0.9"/><circle cx="589.5" cy="864" r="0.9"/><circle cx="590" cy="877" r="0.9"/>
<path d="M640 812 L647.4 808"/>
</g>

<g id="t7">
<!-- straight hose to box -->
<path d="M697.5 741 L700 739 L708 739 L710 741 L710 752 L708 754 L700 754 L697.5 752 Z M697.5 746.5 L710 746.5 M704 739 L704 754"/>
<path d="M710 741 L762.5 742 Q764 746 762.5 751 L710 751 M724 741 L724 751"/>
<path d="M730 743 l2 2 M736 743 l2 2 M742 743 l2 2 M748 743 l2 2"/>
<path d="M762.5 745 Q773 748 775 755 Q776 765 770 775 Q767 787 769 797 Q772 808 777.5 817.5"/>
<path d="M795 761 L771 772.5"/>
<!-- hatched segment & tube -->
<path d="M773.75 820 L782.5 817.5 L797.5 847.5 L790 850 Z"/>
<path d="M786 840 L794 837"/>
<path d="M778 826 l3 -2 M781 831 l3 -2 M784 836 l3 -2"/>
<path d="M790 850 Q797 860 805 865 L817 868 M797.5 847.5 Q801 856 808 860 L817 861"/>
<!-- nut -->
<path d="M817 858 Q818 855 824 856 L829 860 Q831 866 828 871 Q823 873 818 870 Q815 864 817 858 Z M821 857 Q825 862 823 871"/>

<!-- fitting -->
<path d="M853.8 836.1 L885 822.2 Q889.5 825 889.3 830 L889.3 832.8 Q888.5 836 886.7 837 L879.1 841.2 L859.7 850.5"/>
<path d="M857 838.7 L882.5 829.4 M860.6 842 L887.6 830.2 M860.6 845.4 L888.4 835.3"/>
<path d="M859.93 842.41 L860.27 844.27 L860.28 846.10 L859.97 847.78 L859.35 849.20 L858.46 850.28 L857.37 850.95 L856.13 851.15 L854.82 850.89 L853.54 850.18 L852.35 849.06 L851.33 847.61 L850.55 845.90 L850.06 844.06 L849.89 842.20 L850.04 840.43 L850.51 838.87 L851.26 837.61 L852.26 836.73 L853.44 836.29 L854.72 836.32 L856.03 836.81 L857.27 837.73 L858.38 839.03 L859.29 840.62 Z"/>
<path d="M844 847 L850 844 L853.8 847 L853.8 852 L848 854 L844 851 Z"/>
<circle cx="847.1" cy="850.5" r="1.8"/>
<path d="M839.63 853.74 L839.93 855.51 L839.56 857.09 L838.61 858.13 L837.28 858.38 L835.89 857.78 L834.76 856.48 L834.13 854.78 L834.17 853.05 L834.85 851.70 L836.03 851.04 L837.43 851.22 L838.73 852.19 Z"/>
<!-- box -->
<path d="M828.75 783.75 L850 771 L913.75 807.5 L913.75 836 L892.5 849 L828.75 812.5 Z"/>
<path d="M828.75 783.75 L892.5 820 L913.75 807.5 M892.5 820 L892.5 849"/>
<circle cx="842.5" cy="795" r="1.5"/><ellipse cx="846" cy="806" rx="3.5" ry="5"/><circle cx="850" cy="799" r="1.2"/><circle cx="842.5" cy="814" r="1.2"/><circle cx="850" cy="819" r="1.2"/><circle cx="859" cy="814" r="1.2"/><circle cx="866" cy="821" r="1.2"/><circle cx="879" cy="815" r="1.2"/><circle cx="889" cy="821" r="1.5"/><circle cx="889" cy="842" r="1.5"/><ellipse cx="866" cy="822" rx="2.5" ry="3.5"/><circle cx="873" cy="822" r="1.2"/>
<!-- o-ring & leader -->
<ellipse cx="777.5" cy="872.5" rx="3.5" ry="5"/>
<path d="M756 837.5 L776 867.5"/>
<path d="M781 871 L856.4 828.1"/>
<!-- arrow to fitting -->
<path d="M847.5 907.5 L875 859.5"/>
<path d="M884.2 844.6 L872.4 858.5 L877.5 860.6 Z" fill="#000"/>
<!-- flange & hose lower right -->
<path d="M749 882 Q752 873 760 871 Q769 871 772.5 880 Q773 890 766 895 Q756 897 751 891 Q748 887 749 882 Z"/>
<path d="M755 882 Q759 876 764 879 Q767 885 762 889"/>
<circle cx="751.5" cy="877" r="1"/><circle cx="770" cy="883" r="1"/><circle cx="765" cy="892" r="1"/>
<path d="M756 886 Q748 893 740 902 L711 949 M764 888 Q757 895 750 903 L720 954 M711 949 L720 954"/>
<path d="M727.5 920 L735 925"/>
<path d="M722 935 l3 2 M719 940 l3 2 M716 945 l3 2 M729 925 l3 2"/>
<path d="M729 939 L756 967"/>
<path d="M712.5 954.4 Q700 975 688 984.3 Q672 995 656.2 1002.2"/>
</g>

<g id="t8">
<path d="M360.7 193.5 L366.7 182.1 M360.4 185.1 L366.4 189.9 M374.0 188.7 L381.1 181.5 M377.5 185.7 L377.5 193.5 M386.2 183.9 L388.7 185.7 M386.2 192.9 L390.8 188.7 L392.5 183.9 M398.0 192.9 L400.4 183.9 M402.9 183.3 L404.3 192.9 M403.9 181.5 L404.1 182.5 M405.8 182.7 L406.0 183.7 M411.5 192.9 L412.9 182.7 M415.3 182.1 L415.3 192.9 L418.6 187.5 M425.1 183.9 L430.9 183.9 L426.4 193.5 M431.8 181.5 L432.0 182.5 M433.1 182.7 L433.3 183.7"/>
<path d="M606.4 865.7 L606.4 867.7 M605.5 868.4 L609.1 868.4 M606.8 868.4 L606.8 873.1 L605.5 878.5 M606.8 872.4 L609.1 872.4 L608.7 877.8 M610.5 865.0 L609.6 869.0 M610.0 867.0 L614.6 867.0 M610.5 870.4 L614.1 870.4 M611.9 870.4 L611.9 876.5 M610.5 873.1 L610.0 878.5 L614.6 878.5 M611.9 873.8 L614.1 873.8 M619.2 865.0 L626.8 865.0 L626.8 878.5 L619.2 878.5 L619.2 865.0 M621.4 869.0 L624.7 869.0 L624.7 874.5 L621.4 874.5 L621.4 869.0 M631.5 866.4 L637.7 866.4 M630.8 871.8 L638.5 871.8 M634.2 866.4 L634.2 877.8 L638.5 877.8 M643.4 871.8 L651.9 871.8 M659.2 865.0 L656.1 871.1 M658.2 867.7 L665.6 867.7 L659.2 878.5 M658.7 871.1 L663.5 873.8 M676.3 865.0 L674.9 867.0 L674.9 876.5 L676.3 878.5 M687.3 866.4 L687.3 873.1 M691.9 865.0 L691.9 872.4 L688.6 878.5 M696.8 870.4 L708.1 868.4 L705.8 872.4 M700.2 865.0 L703.0 878.5 M710.9 871.8 L719.3 871.8 M722.6 865.0 L724.2 867.0 L724.2 876.5 L722.6 878.5"/>
<path d="M160.2 1057.6 L160.2 1059.4 M159.1 1060.0 L163.3 1060.0 M160.7 1060.0 L160.7 1064.2 L159.1 1069.0 M160.7 1063.6 L163.3 1063.6 L162.7 1068.4 M164.8 1057.0 L163.8 1060.6 M164.3 1058.8 L169.5 1058.8 M164.8 1061.8 L169.0 1061.8 M166.4 1061.8 L166.4 1067.2 M164.8 1064.2 L164.3 1069.0 L169.5 1069.0 M166.4 1064.8 L169.0 1064.8 M173.1 1057.0 L181.0 1057.0 L181.0 1069.0 L173.1 1069.0 L173.1 1057.0 M175.3 1060.6 L178.8 1060.6 L178.8 1065.4 L175.3 1065.4 L175.3 1060.6 M185.4 1058.2 L191.8 1058.2 M184.6 1063.0 L192.6 1063.0 M188.2 1058.2 L188.2 1068.4 L192.6 1068.4 M197.4 1063.0 L205.3 1063.0 M213.5 1057.0 L210.1 1062.4 M212.3 1059.4 L220.1 1059.4 L213.5 1069.0 M212.9 1062.4 L217.9 1064.8 M230.7 1057.0 L229.1 1058.8 L229.1 1067.2 L230.7 1069.0 M237.7 1058.8 L245.8 1058.8 L243.9 1064.2 L239.1 1069.0 M250.7 1058.8 L257.1 1058.8 L257.1 1067.8 L250.7 1067.8 L250.7 1058.8 M263.1 1059.4 L265.5 1061.2 M263.1 1068.4 L267.5 1064.2 L269.1 1059.4 M277.3 1057.0 L277.3 1069.0 M277.3 1061.2 L280.5 1064.2 M288.3 1057.0 L289.9 1058.8 L289.9 1067.2 L288.3 1069.0"/>
<path d="M764.2 914.6 L766.6 916.5 M769.5 914.6 L771.9 916.5 M764.8 917.8 L773.1 917.8 L773.1 920.3 L764.8 920.3 L764.8 922.9 L773.7 922.9 L773.1 926.7 M768.9 917.8 L768.9 927.3 M768.9 923.5 L764.2 927.3 M868.7 914.6 L878.7 914.6 L878.7 927.3 L868.7 927.3 L868.7 914.6 M870.9 917.8 L876.5 924.8 M876.5 917.8 L870.9 924.8 M871.5 916.5 L872.6 917.8 M873.1 916.1 L874.3 917.4 M889.6 914.6 L886.9 917.1 L892.4 917.1 M884.6 919.0 L894.7 919.0 M889.6 917.1 L885.2 922.9 M889.6 919.0 L894.7 922.9 M888.0 921.6 L890.8 922.2 M886.9 924.1 L891.3 923.5 M886.3 926.7 L893.0 925.4 M901.6 915.2 L904.9 915.2 L904.9 922.2 L901.6 922.2 L901.6 915.2 M901.6 918.7 L904.9 918.7 M906.6 915.2 L912.2 915.2 L911.6 918.4 M907.2 919.0 L911.6 919.0 L911.6 922.2 L907.2 922.2 L907.2 919.0 M902.1 924.8 L901.6 926.7 M905.5 924.8 L905.5 926.7 M908.3 924.8 L908.8 926.7 M911.6 924.8 L912.7 926.7"/>
<path stroke-width="1" d="M353.90 209.80 L353.90 198.10 L357.11 206.29 L360.32 198.10 L360.32 209.80 M363.52 202.19 L364.59 201.61 L367.27 201.61 L368.33 202.78 L368.33 209.80 M368.33 205.12 L364.59 205.12 L362.99 206.29 L362.99 208.63 L364.06 209.80 L366.73 209.80 L368.33 208.63 M374.22 201.61 L374.22 209.80 M374.22 198.45 L374.22 199.62 M380.10 201.61 L380.10 209.80 M380.10 203.37 L381.70 201.61 L384.37 201.61 L385.44 202.78 L385.44 209.80 M396.67 198.10 L399.88 209.80 L403.08 198.10 M406.29 202.19 L407.36 201.61 L410.03 201.61 L411.10 202.78 L411.10 209.80 M411.10 205.12 L407.36 205.12 L405.76 206.29 L405.76 208.63 L406.83 209.80 L409.50 209.80 L411.10 208.63 M416.98 198.10 L416.98 209.80 M422.87 201.61 L425.54 209.80 L428.21 201.61 M431.42 205.71 L436.77 205.71 L436.77 203.37 L435.70 201.61 L432.49 201.61 L431.42 203.37 L431.42 208.05 L432.49 209.80 L435.70 209.80 L436.77 208.63"/>
<path stroke-width="1" d="M601.31 885.69 L600.27 884.00 L597.16 884.00 L596.12 885.69 L596.12 887.95 L597.16 889.65 L600.27 889.65 L601.31 891.35 L601.31 893.61 L600.27 895.30 L597.16 895.30 L596.12 893.61 M603.91 887.39 L605.47 895.30 L607.03 889.65 L608.59 895.30 L610.14 887.39 M615.34 887.39 L615.34 895.30 M615.34 884.34 L615.34 885.47 M621.05 887.39 L621.05 895.30 M621.05 889.09 L622.61 887.39 L625.21 887.39 L626.24 888.52 L626.24 895.30 M634.56 887.39 L634.56 896.99 L633.52 898.12 L630.40 898.12 L629.36 896.99 M634.56 889.09 L633.52 887.39 L630.40 887.39 L629.36 889.09 L629.36 893.61 L630.40 895.30 L633.52 895.30 L634.56 893.61 M645.46 895.30 L645.46 884.00 L648.58 891.91 L651.70 884.00 L651.70 895.30 M655.33 887.39 L658.45 887.39 L659.49 889.09 L659.49 893.61 L658.45 895.30 L655.33 895.30 L654.29 893.61 L654.29 889.09 L655.33 887.39 M665.20 884.57 L665.20 894.17 L666.24 895.30 L667.80 895.30 M662.60 887.39 L667.80 887.39 M671.95 887.39 L675.07 887.39 L676.11 889.09 L676.11 893.61 L675.07 895.30 L671.95 895.30 L670.91 893.61 L670.91 889.09 L671.95 887.39 M679.74 887.39 L679.74 895.30 M679.74 889.65 L681.30 887.39 L684.42 887.39 M691.69 883.43 L689.61 885.69 L688.88 889.65 L689.61 893.61 L691.69 895.87 M695.84 895.30 L695.84 884.00 L700.00 884.00 L701.04 885.69 L701.04 887.95 L700.00 889.65 L695.84 889.65 M698.44 889.65 L701.04 895.30 M704.16 891.35 L709.35 891.35 L709.35 889.09 L708.31 887.39 L705.19 887.39 L704.16 889.09 L704.16 893.61 L705.19 895.30 L708.31 895.30 L709.35 894.17 M712.99 887.95 L714.02 887.39 L716.62 887.39 L717.66 888.52 L717.66 895.30 M717.66 890.78 L714.02 890.78 L712.47 891.91 L712.47 894.17 L713.50 895.30 L716.10 895.30 L717.66 894.17 M721.30 887.39 L721.30 895.30 M721.30 889.65 L722.85 887.39 L725.97 887.39 M730.13 883.43 L732.20 885.69 L732.93 889.65 L732.20 893.61 L730.13 895.87"/>
<path stroke-width="1" d="M781.03 914.60 L781.03 927.30 M786.34 914.60 L786.34 927.30 M781.03 920.95 L786.34 920.95 M790.58 914.60 L793.77 914.60 L794.83 917.14 L794.83 924.76 L793.77 927.30 L790.58 927.30 L789.52 924.76 L789.52 917.14 L790.58 914.60 M799.08 917.14 L800.67 914.60 L800.67 927.30 M806.51 916.50 L807.57 914.60 L810.75 914.60 L811.82 916.50 L811.82 919.68 L806.51 927.30 L811.82 927.30 M816.06 914.60 L819.25 914.60 L820.31 917.14 L820.31 924.76 L819.25 927.30 L816.06 927.30 L815.00 924.76 L815.00 917.14 L816.06 914.60 M824.02 921.59 L828.27 921.59 M833.05 914.60 L836.23 914.60 L837.29 917.14 L837.29 924.76 L836.23 927.30 L833.05 927.30 L831.98 924.76 L831.98 917.14 L833.05 914.60 M840.48 916.50 L841.54 914.60 L844.72 914.60 L845.78 916.50 L845.78 919.68 L840.48 927.30 L845.78 927.30 M848.44 927.30 L851.62 914.60 L854.81 927.30 M849.50 922.86 L853.75 922.86 M858.52 914.60 L861.71 914.60 L862.77 917.14 L862.77 924.76 L861.71 927.30 L858.52 927.30 L857.46 924.76 L857.46 917.14 L858.52 914.60"/>
<path stroke-width="1" d="M768.83 934.56 L767.77 932.90 L764.59 932.90 L763.53 934.56 L763.53 936.78 L764.59 938.45 L767.77 938.45 L768.83 940.12 L768.83 942.34 L767.77 944.00 L764.59 944.00 L763.53 942.34 M772.01 940.12 L777.31 940.12 L777.31 937.89 L776.25 936.23 L773.07 936.23 L772.01 937.89 L772.01 942.34 L773.07 944.00 L776.25 944.00 L777.31 942.89 M780.49 940.12 L785.79 940.12 L785.79 937.89 L784.73 936.23 L781.55 936.23 L780.49 937.89 L780.49 942.34 L781.55 944.00 L784.73 944.00 L785.79 942.89 M802.74 932.90 L797.45 932.90 L797.45 944.00 M797.45 938.45 L801.68 938.45 M808.57 936.23 L808.57 944.00 M808.57 933.23 L808.57 934.34 M819.70 936.23 L819.70 945.66 L818.64 946.77 L815.46 946.77 L814.40 945.66 M819.70 937.89 L818.64 936.23 L815.46 936.23 L814.40 937.89 L814.40 942.34 L815.46 944.00 L818.64 944.00 L819.70 942.34 M825.00 943.22 L825.00 944.00 M831.36 932.90 L831.36 944.00 M836.66 932.90 L836.66 944.00 M831.36 938.45 L836.66 938.45 M840.90 932.90 L844.08 932.90 L845.14 935.12 L845.14 941.78 L844.08 944.00 L840.90 944.00 L839.84 941.78 L839.84 935.12 L840.90 932.90 M849.38 935.12 L850.97 932.90 L850.97 944.00 M856.80 934.56 L857.86 932.90 L861.04 932.90 L862.10 934.56 L862.10 937.34 L856.80 944.00 L862.10 944.00 M866.34 932.90 L869.52 932.90 L870.58 935.12 L870.58 941.78 L869.52 944.00 L866.34 944.00 L865.28 941.78 L865.28 935.12 L866.34 932.90 M874.29 939.00 L878.52 939.00 M883.29 932.90 L886.47 932.90 L887.53 935.12 L887.53 941.78 L886.47 944.00 L883.29 944.00 L882.23 941.78 L882.23 935.12 L883.29 932.90 M890.71 934.56 L891.77 932.90 L894.95 932.90 L896.01 934.56 L896.01 937.34 L890.71 944.00 L896.01 944.00 M898.66 944.00 L901.84 932.90 L905.02 944.00 M899.72 940.12 L903.96 940.12 M908.73 932.90 L911.91 932.90 L912.97 935.12 L912.97 941.78 L911.91 944.00 L908.73 944.00 L907.67 941.78 L907.67 935.12 L908.73 932.90"/>
<path stroke-width="1" d="M157.71 1076.16 L156.67 1074.50 L153.56 1074.50 L152.52 1076.16 L152.52 1078.38 L153.56 1080.05 L156.67 1080.05 L157.71 1081.71 L157.71 1083.93 L156.67 1085.60 L153.56 1085.60 L152.52 1083.93 M160.30 1077.83 L161.85 1085.60 L163.41 1080.05 L164.97 1085.60 L166.52 1077.83 M171.71 1077.83 L171.71 1085.60 M171.71 1074.83 L171.71 1075.94 M177.41 1077.83 L177.41 1085.60 M177.41 1079.49 L178.97 1077.83 L181.56 1077.83 L182.60 1078.94 L182.60 1085.60 M190.90 1077.83 L190.90 1087.26 L189.86 1088.38 L186.75 1088.38 L185.71 1087.26 M190.90 1079.49 L189.86 1077.83 L186.75 1077.83 L185.71 1079.49 L185.71 1083.93 L186.75 1085.60 L189.86 1085.60 L190.90 1083.93 M201.79 1085.60 L201.79 1074.50 L204.90 1082.27 L208.02 1074.50 L208.02 1085.60 M211.65 1077.83 L214.76 1077.83 L215.80 1079.49 L215.80 1083.93 L214.76 1085.60 L211.65 1085.60 L210.61 1083.93 L210.61 1079.49 L211.65 1077.83 M221.50 1075.06 L221.50 1084.49 L222.54 1085.60 L224.09 1085.60 M218.91 1077.83 L224.09 1077.83 M228.24 1077.83 L231.36 1077.83 L232.39 1079.49 L232.39 1083.93 L231.36 1085.60 L228.24 1085.60 L227.21 1083.93 L227.21 1079.49 L228.24 1077.83 M236.02 1077.83 L236.02 1085.60 M236.02 1080.05 L237.58 1077.83 L240.69 1077.83 M247.95 1073.94 L245.88 1076.16 L245.15 1080.05 L245.88 1083.93 L247.95 1086.15 M257.29 1074.50 L252.10 1074.50 L252.10 1085.60 M252.10 1080.05 L256.25 1080.05 M260.92 1077.83 L260.92 1085.60 M260.92 1080.05 L262.48 1077.83 L265.59 1077.83 M269.74 1077.83 L272.85 1077.83 L273.89 1079.49 L273.89 1083.93 L272.85 1085.60 L269.74 1085.60 L268.70 1083.93 L268.70 1079.49 L269.74 1077.83 M277.00 1077.83 L277.00 1085.60 M277.00 1079.49 L278.55 1077.83 L281.15 1077.83 L282.18 1078.94 L282.18 1085.60 M287.89 1075.06 L287.89 1084.49 L288.93 1085.60 L290.48 1085.60 M285.30 1077.83 L290.48 1077.83 M294.63 1073.94 L296.71 1076.16 L297.43 1080.05 L296.71 1083.93 L294.63 1086.15"/>
<path stroke-width="1.2" d="M824.12 1132.20 L826.36 1132.20 L827.10 1133.50 L827.10 1137.40 L826.36 1138.70 L824.12 1138.70 L823.37 1137.40 L823.37 1133.50 L824.12 1132.20 M834.52 1132.20 L836.76 1132.20 L837.50 1133.50 L837.50 1137.40 L836.76 1138.70 L834.52 1138.70 L833.78 1137.40 L833.78 1133.50 L834.52 1132.20 M844.93 1132.20 L847.16 1132.20 L847.91 1133.50 L847.91 1137.40 L847.16 1138.70 L844.93 1138.70 L844.18 1137.40 L844.18 1133.50 L844.93 1132.20 M855.33 1132.20 L857.57 1132.20 L858.31 1133.50 L858.31 1137.40 L857.57 1138.70 L855.33 1138.70 L854.58 1137.40 L854.58 1133.50 L855.33 1132.20 M868.72 1132.20 L865.21 1132.20 L864.99 1135.12 L867.97 1135.12 L868.72 1136.10 L868.72 1137.73 L867.97 1138.70 L865.73 1138.70 L864.99 1137.73 M875.39 1132.20 L879.12 1132.20 L879.12 1133.50 L876.88 1138.70 M886.54 1133.50 L887.66 1132.20 L887.66 1138.70 M896.20 1133.17 L896.94 1132.20 L899.18 1132.20 L899.93 1133.17 L899.93 1134.80 L896.20 1138.70 L899.93 1138.70"/>
</g>
<g id="t9">
<!-- swing motor front -->
<path d="M182.2 924.2 L194.7 924.2 L194.7 960.3 L182.2 960.3 Z M182.2 933.4 L194.7 933.4 M182.2 938.8 L194.7 938.8 M182.2 951.7 L194.7 951.7"/>
<path d="M185 927 L185 931 L192 931 L192 927 M187 929 L188.5 931 L190 929"/>
<path d="M180 952 Q176 955 178 962 Q183 966 192 965 Q198 963 198 958 L197 952"/>
<path d="M195.7 935.5 L209.2 925.3 L247.5 946.3 L233.5 956 Z"/>
<path d="M196 938 L233 958 L233 962 M200 932 Q200 928 206 929 L236 945 Q240 948 238 952 L233 955"/>
<path d="M209.63 935.69 L208.72 936.55 L207.19 936.82 L205.39 936.45 L203.73 935.52 L202.59 934.24 L202.23 932.90 L202.73 931.82 L203.99 931.23 L205.70 931.28 L207.49 931.95 L208.93 933.10 L209.70 934.44 Z"/>
<path d="M228.53 948.11 L227.70 948.99 L226.31 949.42 L224.56 949.32 L222.73 948.72 L221.09 947.70 L219.90 946.43 L219.33 945.09 L219.47 943.89 L220.30 943.01 L221.69 942.58 L223.44 942.68 L225.27 943.28 L226.91 944.30 L228.10 945.57 L228.67 946.91 Z"/>
<path d="M247.5 946.3 L248.6 984 L230.3 991 L230.3 964.7 L247.5 955"/>
<path d="M242 950 L242 987 M245 948 L245 986"/>
<circle cx="244" cy="952" r="1"/><circle cx="244" cy="958" r="1"/>
<path d="M159 951.7 Q160 947 164.4 946.3 L173 946.3 Q177 948 177.4 951 L172 954 L165 956 Z"/>
<path d="M159 956 L159 979.8 L154.7 989.5 L154.2 1006.7 L158 1010 L159 1017.5 Q163 1024 166.6 1029.4 Q170 1035 177.4 1040.2 Q183 1044 190.3 1045.6 L209.8 1047.8 L228.1 1046.7 Q233 1045 234.6 1042.4 Q236 1038 235.7 1033.7 L230.3 1021.9 L237.8 1010 L237.8 990.6 L230.3 991.6"/>
<path d="M158 1010 Q178 1018 190 1019 L212 1019 Q228 1016 237.8 1010"/>
<path d="M166 1023 Q180 1030 190 1030 Q210 1030 224 1027"/>
<path d="M162 1020 Q170 1032 185 1040 Q200 1044 220 1043"/>
<path d="M154.7 989.5 Q165 997 175 1000 L200 1007 Q215 1006 230 1000"/>
<path d="M155 1000 Q165 1006 178 1008 L205 1010 L230 1004"/>
<path d="M177 950 L177 966 Q183 970 193 968 L200 966 L208 960 L220 963 L230 964.7"/>
<path d="M184 970 L186 1000 M190 970 L194 1005 M200 968 L204 1000 M209 967 L209 995 M215 968 L216 994"/>
<path d="M206 973 Q212 968 218 975 L219 990 Q213 994 207 989 Z"/>
<ellipse cx="212" cy="983" rx="3" ry="3.5"/>
<path d="M222 968 L230 967 L230 985 L222 988 Z"/>
<circle cx="226" cy="972" r="0.8"/><circle cx="226" cy="978" r="0.8"/>
<path d="M161 975 Q163 969 170 972 L177 978 Q179 985 175 990 Q168 992 162 988 Q158 982 161 975 Z M165 974 L168 990 M170 972 L172 991"/>
<path d="M177 978 L180 976 L181 985 L177 990"/>
<path d="M194 1005 Q198 1000 204 1004 L204 1012 L194 1013 Z"/>
<path d="M188 1019 L188 1026 L197 1026 L197 1019 Z"/>
<ellipse cx="192.5" cy="1023" rx="2" ry="1.5"/>
<path d="M212 1032 L227 1028 L234 1036 L228 1042 L216 1040 Z"/>
<ellipse cx="226" cy="1037" rx="3" ry="2"/>
<path d="M189.3 1045 L189.3 1051 L201.1 1051 L201.1 1045 M192 1046 L192 1051 M195 1046 L195 1051 M198 1046 L198 1051"/>
<!-- leaders / o-rings -->
<path d="M240 891.25 L253.75 913.75"/>
<path d="M257.13 916.59 L257.41 918.47 L257.25 920.22 L256.67 921.65 L255.74 922.57 L254.56 922.89 L253.29 922.55 L252.08 921.61 L251.06 920.17 L250.37 918.41 L250.09 916.53 L250.25 914.78 L250.83 913.35 L251.76 912.43 L252.94 912.11 L254.21 912.45 L255.42 913.39 L256.44 914.83 Z"/>
<path d="M250 921 L226 934"/>
<!-- flange 1 + hose 1 -->
<path d="M275.29 904.50 L276.01 905.99 L276.50 907.56 L276.73 909.16 L276.72 910.77 L276.46 912.32 L275.95 913.79 L275.21 915.12 L274.26 916.29 L273.13 917.26 L271.84 918.00 L270.43 918.50 L268.95 918.74 L267.42 918.71 L265.90 918.42 L264.42 917.87 L263.02 917.08 L261.75 916.07 L260.64 914.86 L259.71 913.50 L258.99 912.01 L258.50 910.44 L258.27 908.84 L258.28 907.23 L258.54 905.68 L259.05 904.21 L259.79 902.88 L260.74 901.71 L261.87 900.74 L263.16 900.00 L264.57 899.50 L266.05 899.26 L267.58 899.29 L269.10 899.58 L270.58 900.13 L271.98 900.92 L273.25 901.93 L274.36 903.14 Z"/>
<path d="M275.0 902.0 Q279.0 909 276.0 917.0 L269.5 920.0"/>
<ellipse cx="266.5" cy="909" rx="4.2" ry="3.6"/><ellipse cx="266.5" cy="909" rx="2.4" ry="2"/><path d="M264.5 910 Q266.5 907 268.5 909"/>
<circle cx="260.0" cy="907" r="1"/><circle cx="274.0" cy="912" r="1.1" fill="#000"/><circle cx="267.5" cy="901.5" r="0.9"/><circle cx="268.5" cy="916.5" r="0.9"/>
<path d="M274.7 901.6 L285.9 903.4 L366.5 949.4 L361.8 957.8 L281.2 912.8"/>
<path d="M286 905 Q283 909 286 913"/>
<path d="M295 912 l2 -3 M301 915 l2 -3 M307 919 l2 -3 M313 922 l2 -3 M319 925 l2 -3 M325 929 l2 -3 M331 932 l2 -3 M337 936 l2 -3 M343 939 l2 -3 M349 943 l2 -3 M355 946 l2 -3"/>
<path d="M365 957.5 L376.25 960"/>
<!-- flange 2 -->
<path d="M318.29 928.90 L319.04 930.42 L319.56 932.01 L319.84 933.64 L319.88 935.27 L319.69 936.84 L319.25 938.33 L318.58 939.69 L317.71 940.88 L316.65 941.88 L315.43 942.67 L314.08 943.21 L312.64 943.50 L311.15 943.52 L309.64 943.29 L308.15 942.80 L306.72 942.06 L305.39 941.10 L304.19 939.95 L303.15 938.62 L302.31 937.15 L301.68 935.59 L301.27 933.98 L301.11 932.34 L301.18 930.74 L301.50 929.20 L302.06 927.77 L302.83 926.49 L303.80 925.39 L304.94 924.50 L306.23 923.83 L307.63 923.41 L309.10 923.26 L310.61 923.36 L312.11 923.72 L313.58 924.34 L314.96 925.19 L316.23 926.25 L317.35 927.50 Z"/>
<path d="M318.0 925.9 Q322.0 933.4 319.0 941.9 L312.5 944.9"/>
<ellipse cx="309.5" cy="933.4" rx="4.2" ry="3.6"/><ellipse cx="309.5" cy="933.4" rx="2.4" ry="2"/><path d="M307.5 934.4 Q309.5 931.4 311.5 933.4"/>
<circle cx="303.0" cy="931.4" r="1"/><circle cx="317.0" cy="936.4" r="1.1" fill="#000"/><circle cx="310.5" cy="925.4" r="0.9"/><circle cx="311.5" cy="941.4" r="0.9"/>
<ellipse cx="295" cy="941.25" rx="3.5" ry="4.5"/>
<path d="M297.5 946 L306.25 961.25"/>
<path d="M291 942.5 L276.25 952.5 L252.5 940 L245 945"/>
<path d="M247.5 961.25 L322.5 1002.5 L333.75 996.25"/>
<ellipse cx="336.25" cy="993.75" rx="3.5" ry="5"/>
<path d="M337.5 1000 L340 1026.25"/>
<!-- flange 3 + hose 3 -->
<path d="M359.36 981.25 L360.15 982.83 L360.72 984.49 L361.07 986.16 L361.19 987.83 L361.07 989.43 L360.71 990.93 L360.12 992.28 L359.33 993.47 L358.35 994.44 L357.20 995.19 L355.92 995.68 L354.53 995.91 L353.08 995.88 L351.60 995.57 L350.14 995.00 L348.72 994.18 L347.38 993.14 L346.17 991.91 L345.11 990.50 L344.22 988.97 L343.54 987.35 L343.07 985.68 L342.84 984.00 L342.84 982.36 L343.08 980.81 L343.56 979.38 L344.25 978.10 L345.14 977.02 L346.21 976.15 L347.43 975.53 L348.77 975.17 L350.19 975.07 L351.66 975.25 L353.13 975.69 L354.58 976.38 L355.96 977.31 L357.24 978.45 L358.38 979.78 Z"/>
<path d="M359.0 977.5 Q363.0 985.5 360.0 994.5 L354 997.5"/>
<ellipse cx="351" cy="985.5" rx="4.2" ry="3.6"/><ellipse cx="351" cy="985.5" rx="2.4" ry="2"/><path d="M349 986.5 Q351 983.5 353 985.5"/>
<circle cx="345.0" cy="983.5" r="1"/><circle cx="358.0" cy="988.5" r="1.1" fill="#000"/><circle cx="352" cy="977.0" r="0.9"/><circle cx="353" cy="994.0" r="0.9"/>
<path d="M361.8 977.5 L405.9 951.2 L408.7 958.7 L362.8 985 M367.5 974 Q370 978 370 982 M382.3 965.5 Q385 969 385 974"/>
<path d="M390 966 l2 -3 M394 963.5 l2 -3 M398 961 l2 -3 M402 958.5 l2 -3 M406 956 l1.5 -3"/>

<path d="M350 937.5 Q365 935 377.5 930 Q393 922 406.75 912.5"/>
<path d="M395 970 Q400 974 406.75 975"/>
<path d="M304 986 L306 986 M320 986 L322 986 M332 1050 L334 1050 M347 1050 L349 1050 M375 1042.5 L377 1042.5 M390 1042.5 L392 1042.5"/>
<!-- extra density front motor -->
<path d="M202.2 932.3 L236.8 950.6 L233.5 956 L199 938.2 Z"/>
<ellipse cx="212" cy="932.5" rx="1" ry="0.8"/><ellipse cx="225" cy="937.5" rx="1" ry="0.8"/><ellipse cx="232" cy="941" rx="1" ry="0.8"/>
<path d="M241.1 946.3 L241.1 987.3 M230.3 964.7 L230.3 991.1"/>
<path d="M178.5 965.7 L188.2 969 L205.4 962.5 L218.4 958.2 L230.3 964.7"/>
<path d="M193.6 975.5 L201 969 L214 970 L216 975 L217 988 L208.7 992.7 L205.4 990.5 L205.4 981"/>
<path d="M182.8 975.5 L186 1003.5 M191.4 980 L195.7 1010 M203.3 997 L203.3 1014"/>
<path d="M154.7 1000 L166.6 1003.5 L193.6 1006.7 L209.8 1006.7 L228.1 1001.4"/>
<path d="M159 1010 L177.4 1015.4 L209.8 1018.6 L237.8 1010"/>
<path d="M166 951 Q168 946.5 174 947 Q177.5 949 176 952 Q171 954.5 166 951 Z"/>
<path d="M167 1032 Q180 1040 195 1043 L215 1043.5"/>
<path d="M178 1036 L187 1039 M196 1013 L200 1024 L210 1024 L214 1014"/>
</g>

</svg>
</body></html>
